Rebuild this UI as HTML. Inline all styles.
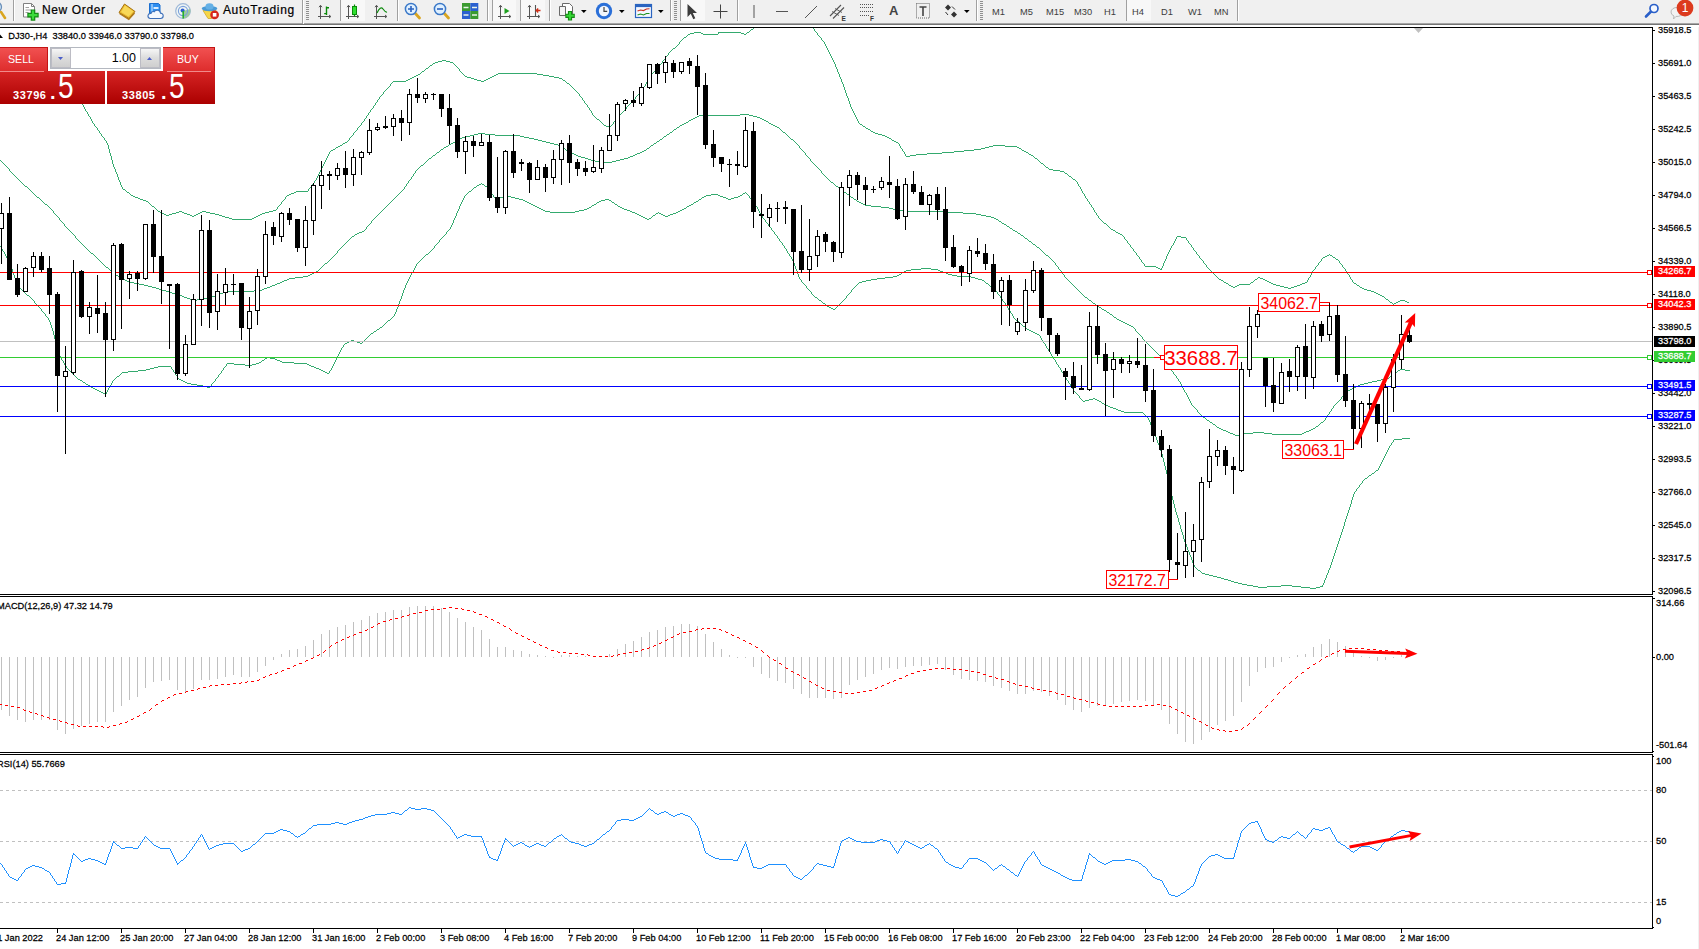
<!DOCTYPE html>
<html><head><meta charset="utf-8"><title>DJ30-,H4</title>
<style>
html,body{margin:0;padding:0;background:#fff;}
body{width:1699px;height:949px;overflow:hidden;position:relative;font-family:"Liberation Sans",sans-serif;}
#chart{position:absolute;left:0;top:0;}

#tb{position:absolute;left:0;top:0;width:1699px;height:27px;background:linear-gradient(#f0f0f0 0,#f0f0f0 23px,#a6a6a6 23px,#a6a6a6 24px,#747474 24px,#747474 25px,#fff 25px,#fff 27px);overflow:hidden;}
#tb .ic{position:absolute;overflow:visible;}
#tb .sep{position:absolute;top:0;width:1px;background:#a0a0a0;box-shadow:1px 0 0 #fff;}
#tb .grip{position:absolute;top:1px;width:3px;height:20px;background:repeating-linear-gradient(#909090 0,#909090 1px,transparent 1px,transparent 2px);}
#tb .hl{position:absolute;top:0;height:21px;background:#f8f8f8;box-shadow:inset 1px 0 0 #a0a0a0;}
#tb .tt{position:absolute;top:3px;font-size:12px;line-height:14px;color:#000;white-space:nowrap;-webkit-text-stroke:0.2px #000;}
#tb .tf{position:absolute;top:6.5px;font-size:9.3px;line-height:11px;color:#3c3c3c;white-space:nowrap;}
#tb .tA{position:absolute;top:4px;font-size:13px;line-height:14px;color:#444;font-weight:bold;}
#tp{position:absolute;left:0;top:47px;width:215px;height:57px;}
#tp .wbox{position:absolute;left:47px;top:0;width:117px;height:25px;background:#fff;}
#tp .bs{position:absolute;top:0;height:25px;width:48px;background:linear-gradient(#f25252,#dd2b2b);color:#fff;font-size:10.6px;box-shadow:inset -1px 1px 0 #c41414;}
#tp .sell{left:0;} #tp .buy{left:163px;width:52px;}
#tp .bs span{position:absolute;left:8px;top:5px;line-height:14px;letter-spacing:0px;}
#tp .buy span{left:14px;}
#tp .pr{position:absolute;top:24px;height:33px;background:linear-gradient(#d62424,#ab0000);color:#fff;}
#tp .pl{left:0;width:105px;} #tp .prr{left:107px;width:108px;}
#tp .ln{position:absolute;top:24px;height:1px;background:#f08a8a;}
#tp .sm{position:absolute;top:18px;font-size:11px;font-weight:bold;line-height:12px;letter-spacing:0.6px;}
#tp .dot{position:absolute;top:10px;font-size:20px;font-weight:bold;line-height:22px;}
#tp .big{position:absolute;top:-4px;font-size:35px;line-height:38px;transform:scaleX(0.8);transform-origin:0 0;}
#tp .spin{position:absolute;left:50px;top:0;width:111px;height:22px;border:1px solid #b4b8c0;background:#fff;box-sizing:border-box;}
#tp .sb{position:absolute;top:0;width:20px;height:20px;background:linear-gradient(#f6f6f6,#dcdcdc 50%,#cfcfcf);border:1px solid #bcbcc4;box-sizing:border-box;}
#tp .sb svg{position:absolute;left:6px;top:8px;}
#tp .vol{position:absolute;right:24px;top:3px;font-size:12.5px;line-height:15px;color:#000;}

</style></head><body>
<svg id="chart" width="1699" height="949" viewBox="0 0 1699 949">
<rect x="0" y="27" width="1653" height="1" fill="#000" />
<rect x="1652" y="27" width="1" height="902" fill="#000" />
<rect x="0" y="594" width="1653" height="1" fill="#000" />
<rect x="0" y="596" width="1653" height="1" fill="#000" />
<rect x="0" y="752" width="1653" height="1" fill="#000" />
<rect x="0" y="754" width="1653" height="1" fill="#000" />
<rect x="0" y="928" width="1653" height="1" fill="#000" />
<rect x="1652" y="595" width="1" height="1" fill="#fff" />
<rect x="1652" y="753" width="1" height="1" fill="#fff" />
<rect x="1698" y="25" width="1" height="924" fill="#f0f0f0" />
<clipPath id="cm"><rect x="0" y="28" width="1652" height="566"/></clipPath>
<clipPath id="c2"><rect x="0" y="597" width="1652" height="155"/></clipPath>
<clipPath id="c3"><rect x="0" y="755" width="1652" height="173"/></clipPath>
<g clip-path="url(#cm)" shape-rendering="crispEdges">
<polygon points="1414,28 1423,28 1418.5,33" fill="#c0c0c0" shape-rendering="auto"/>
<path fill="#34aa6e" d="M162 213h2v1h-2zM172 213h4v1h-4zM184 213h3v1h-3zM198 213h2v1h-2zM210 213h5v1h-5zM262 213h3v1h-3zM1386 299h2v1h-2zM1231 286h2v1h-2zM1235 286h2v1h-2zM1280 286h4v1h-4zM1294 286h3v1h-3zM1233 287h2v1h-2zM1284 287h4v1h-4zM1291 287h3v1h-3zM1360 287h2v1h-2zM393 81h13v1h-13zM481 81h3v1h-3zM673 48h2v1h-2zM1371 291h3v1h-3zM906 156h4v1h-4zM435 62h3v1h-3zM450 62h3v1h-3zM1226 283h2v1h-2zM1271 283h2v1h-2zM1302 283h3v1h-3zM1354 283h2v1h-2zM1219 279h2v1h-2zM1255 279h2v1h-2zM1263 279h2v1h-2zM160 212h2v1h-2zM176 212h3v1h-3zM182 212h2v1h-2zM200 212h2v1h-2zM206 212h4v1h-4zM265 212h4v1h-4zM1158 268h2v1h-2zM229 218h3v1h-3zM252 218h2v1h-2zM166 215h3v1h-3zM190 215h2v1h-2zM194 215h2v1h-2zM219 215h3v1h-3zM258 215h2v1h-2zM338 146h2v1h-2zM989 146h4v1h-4zM1005 146h12v1h-12zM927 153h15v1h-15zM1229 285h2v1h-2zM1237 285h2v1h-2zM1276 285h4v1h-4zM1297 285h3v1h-3zM1357 285h2v1h-2zM498 73h39v1h-39zM1239 284h11v1h-11zM1273 284h3v1h-3zM1300 284h2v1h-2zM694 32h7v1h-7zM718 32h23v1h-23zM747 32h2v1h-2zM406 80h2v1h-2zM477 80h4v1h-4zM484 80h2v1h-2zM563 80h2v1h-2zM916 154h11v1h-11zM1029 154h2v1h-2zM1390 302h2v1h-2zM1396 302h2v1h-2zM1407 302h2v1h-2zM764 21h8v1h-8zM1073 179h2v1h-2zM1380 295h2v1h-2zM133 196h2v1h-2zM1382 296h2v1h-2zM1374 292h2v1h-2zM567 83h2v1h-2zM412 77h2v1h-2zM467 77h4v1h-4zM490 77h2v1h-2zM554 77h5v1h-5zM604 125h2v1h-2zM1160 269h2v1h-2zM910 155h6v1h-6zM1031 155h2v1h-2zM442 60h4v1h-4zM690 33h4v1h-4zM701 33h2v1h-2zM741 33h3v1h-3zM340 145h2v1h-2zM993 145h12v1h-12zM143 200h3v1h-3zM1069 176h2v1h-2zM408 79h2v1h-2zM474 79h3v1h-3zM486 79h2v1h-2zM794 17h8v1h-8zM871 131h2v1h-2zM756 25h2v1h-2zM1145 266h11v1h-11zM1120 234h2v1h-2zM433 63h2v1h-2zM164 214h2v1h-2zM169 214h3v1h-3zM187 214h3v1h-3zM196 214h2v1h-2zM215 214h4v1h-4zM260 214h2v1h-2zM1398 301h2v1h-2zM1405 301h2v1h-2zM123 189h2v1h-2zM1367 290h4v1h-4zM1224 282h2v1h-2zM1251 282h2v1h-2zM1269 282h2v1h-2zM1305 282h2v1h-2zM1258 277h2v1h-2zM875 133h3v1h-3zM418 74h2v1h-2zM496 74h2v1h-2zM537 74h6v1h-6zM688 34h2v1h-2zM703 34h15v1h-15zM744 34h2v1h-2zM296 191h12v1h-12zM138 198h2v1h-2zM345 142h2v1h-2zM896 142h2v1h-2zM1378 294h2v1h-2zM942 152h12v1h-12zM1026 152h2v1h-2zM131 195h2v1h-2zM287 195h2v1h-2zM1327 255h2v1h-2zM1330 255h2v1h-2zM887 137h2v1h-2zM158 211h2v1h-2zM179 211h3v1h-3zM202 211h4v1h-4zM269 211h4v1h-4zM414 76h2v1h-2zM465 76h2v1h-2zM492 76h2v1h-2zM549 76h5v1h-5zM416 75h2v1h-2zM494 75h2v1h-2zM543 75h6v1h-6zM343 143h2v1h-2zM606 126h5v1h-5zM863 126h2v1h-2zM779 19h8v1h-8zM410 78h2v1h-2zM471 78h3v1h-3zM488 78h2v1h-2zM559 78h3v1h-3zM140 199h3v1h-3zM1053 170h7v1h-7zM273 210h3v1h-3zM1221 280h2v1h-2zM1265 280h2v1h-2zM232 219h20v1h-20zM333 149h2v1h-2zM974 149h7v1h-7zM1323 257h2v1h-2zM1333 257h2v1h-2zM1060 171h4v1h-4zM1400 300h5v1h-5zM860 124h2v1h-2zM892 140h2v1h-2zM146 201h2v1h-2zM152 206h2v1h-2zM1336 259h2v1h-2zM1113 230h2v1h-2zM430 65h2v1h-2zM225 217h4v1h-4zM254 217h2v1h-2zM1376 293h2v1h-2zM894 141h2v1h-2zM868 129h2v1h-2zM1260 278h3v1h-3zM981 148h4v1h-4zM1019 148h2v1h-2zM1035 158h2v1h-2zM426 68h2v1h-2zM889 138h2v1h-2zM331 150h2v1h-2zM964 150h10v1h-10zM1022 150h2v1h-2zM1104 223h2v1h-2zM1364 289h3v1h-3zM1118 233h2v1h-2zM787 18h7v1h-7zM135 197h3v1h-3zM1049 169h4v1h-4zM1267 281h2v1h-2zM954 151h10v1h-10zM1024 151h2v1h-2zM289 194h2v1h-2zM336 147h2v1h-2zM985 147h4v1h-4zM1017 147h2v1h-2zM438 61h4v1h-4zM446 61h4v1h-4zM1177 236h4v1h-4zM1116 232h2v1h-2zM772 20h7v1h-7zM1325 256h2v1h-2zM1181 237h5v1h-5zM1111 229h2v1h-2zM1046 167h2v1h-2zM597 119h2v1h-2zM127 192h2v1h-2zM294 192h2v1h-2zM885 136h2v1h-2zM873 132h2v1h-2zM1065 173h2v1h-2zM684 37h2v1h-2zM1156 267h2v1h-2zM878 134h4v1h-4zM760 22h4v1h-4zM422 71h2v1h-2zM1288 288h3v1h-3zM1362 288h2v1h-2zM192 216h2v1h-2zM222 216h3v1h-3zM256 216h2v1h-2zM882 135h3v1h-3zM802 16h4v1h-4zM291 193h3v1h-3zM1394 303h2v1h-2zM866 128h2v1h-2zM1041 163h2v1h-2zM751 29h2v1h-2zM1096 213h1v2h-1zM1359 286h1v1h-1zM1129 244h1v1h-1zM1173 243h1v2h-1zM1190 244h1v1h-1zM753 28h1v1h-1zM813 28h1v1h-1zM389 86h1v1h-1zM571 86h1v1h-1zM644 86h1v1h-1zM843 84h1v3h-1zM1133 249h1v2h-1zM1170 248h1v2h-1zM1193 248h1v2h-1zM565 81h1v1h-1zM647 81h1v1h-1zM841 79h1v3h-1zM388 87h1v1h-1zM572 87h1v1h-1zM643 87h1v2h-1zM844 87h1v3h-1zM827 48h1v2h-1zM1169 250h1v2h-1zM1194 250h1v1h-1zM83 105h1v2h-1zM373 106h1v2h-1zM587 105h1v2h-1zM627 106h1v1h-1zM850 104h1v3h-1zM1143 263h1v1h-1zM1163 263h1v3h-1zM1204 263h1v1h-1zM1318 263h1v2h-1zM1340 263h1v1h-1zM111 156h1v4h-1zM327 156h1v2h-1zM1033 156h1v1h-1zM662 61h1v2h-1zM834 62h1v2h-1zM1250 283h1v1h-1zM1308 278h1v2h-1zM1351 279h1v1h-1zM1095 212h1v1h-1zM1161 268h1v1h-1zM1208 268h1v1h-1zM1315 267h1v2h-1zM1344 268h1v1h-1zM387 88h1v1h-1zM573 88h1v1h-1zM98 130h1v1h-1zM356 130h1v1h-1zM870 130h1v1h-1zM1110 228h1v1h-1zM1099 218h1v1h-1zM1097 215h1v1h-1zM108 145h1v4h-1zM900 146h1v2h-1zM85 109h1v2h-1zM370 110h1v2h-1zM590 110h1v1h-1zM624 110h1v1h-1zM852 109h1v2h-1zM110 153h1v3h-1zM329 152h1v2h-1zM904 152h1v2h-1zM1028 153h1v1h-1zM420 73h1v1h-1zM462 73h1v1h-1zM652 73h1v1h-1zM838 72h1v2h-1zM1228 284h1v1h-1zM1356 284h1v1h-1zM816 32h1v1h-1zM648 79h1v2h-1zM328 154h1v2h-1zM905 154h1v2h-1zM808 20h1v2h-1zM379 97h1v2h-1zM581 97h1v1h-1zM635 97h1v2h-1zM847 96h1v2h-1zM149 203h1v1h-1zM281 202h1v2h-1zM1089 202h1v2h-1zM380 96h1v1h-1zM580 96h1v1h-1zM636 96h1v1h-1zM376 102h1v1h-1zM584 101h1v2h-1zM631 102h1v1h-1zM849 101h1v3h-1zM118 177h1v3h-1zM316 178h1v2h-1zM119 180h1v2h-1zM315 180h1v1h-1zM1075 180h1v1h-1zM150 204h1v1h-1zM280 204h1v1h-1zM1090 204h1v1h-1zM286 196h1v1h-1zM1085 196h1v2h-1zM391 83h1v1h-1zM646 82h1v2h-1zM842 82h1v2h-1zM649 77h1v2h-1zM840 77h1v2h-1zM84 107h1v2h-1zM588 107h1v1h-1zM626 107h1v2h-1zM851 107h1v2h-1zM428 67h1v1h-1zM457 67h1v1h-1zM657 67h1v1h-1zM836 67h1v2h-1zM94 124h1v2h-1zM360 125h1v1h-1zM611 125h1v1h-1zM862 125h1v1h-1zM1209 269h1v1h-1zM1314 269h1v1h-1zM1345 269h1v2h-1zM96 127h1v1h-1zM358 127h1v1h-1zM865 127h1v1h-1zM1124 237h1v2h-1zM1176 237h1v2h-1zM1186 238h1v2h-1zM663 60h1v1h-1zM833 60h1v2h-1zM90 117h1v2h-1zM365 118h1v1h-1zM596 118h1v1h-1zM617 118h1v1h-1zM856 117h1v2h-1zM1135 252h1v1h-1zM1168 252h1v2h-1zM1196 252h1v2h-1zM1139 257h1v2h-1zM1166 256h1v3h-1zM1200 258h1v1h-1zM1322 258h1v1h-1zM1335 258h1v1h-1zM87 112h1v2h-1zM369 112h1v1h-1zM591 111h1v2h-1zM622 112h1v1h-1zM853 111h1v2h-1zM718 33h1v1h-1zM746 33h1v1h-1zM817 33h1v2h-1zM899 144h1v2h-1zM750 30h1v1h-1zM814 29h1v2h-1zM117 174h1v3h-1zM318 174h1v2h-1zM1068 175h1v1h-1zM283 200h1v1h-1zM1087 199h1v2h-1zM378 99h1v1h-1zM582 98h1v2h-1zM634 99h1v1h-1zM848 98h1v3h-1zM156 209h1v1h-1zM276 209h1v1h-1zM1093 208h1v2h-1zM317 176h1v2h-1zM678 44h1v1h-1zM825 44h1v2h-1zM562 79h1v1h-1zM806 17h1v2h-1zM99 131h1v2h-1zM355 131h1v1h-1zM811 25h1v1h-1zM1162 266h1v2h-1zM1206 265h1v2h-1zM1316 266h1v1h-1zM1342 265h1v2h-1zM386 89h1v1h-1zM574 89h1v1h-1zM642 89h1v1h-1zM1130 245h1v2h-1zM1172 245h1v1h-1zM1191 245h1v2h-1zM453 63h1v1h-1zM661 63h1v1h-1zM1389 301h1v1h-1zM308 189h1v2h-1zM1081 189h1v2h-1zM383 92h1v2h-1zM578 93h1v1h-1zM639 93h1v1h-1zM846 93h1v3h-1zM151 205h1v1h-1zM279 205h1v1h-1zM1091 205h1v2h-1zM116 172h1v2h-1zM319 172h1v2h-1zM1064 172h1v1h-1zM1211 271h1v1h-1zM1312 271h1v2h-1zM1346 271h1v1h-1zM1353 282h1v1h-1zM424 70h1v1h-1zM459 69h1v2h-1zM655 70h1v1h-1zM837 69h1v3h-1zM1217 277h1v1h-1zM1309 277h1v1h-1zM1350 277h1v2h-1zM100 133h1v1h-1zM353 133h1v2h-1zM1034 157h1v1h-1zM1115 231h1v1h-1zM463 74h1v1h-1zM651 74h1v1h-1zM839 74h1v3h-1zM314 181h1v2h-1zM1076 181h1v1h-1zM1141 260h1v2h-1zM1165 259h1v2h-1zM1202 260h1v1h-1zM1321 259h1v2h-1zM1338 260h1v1h-1zM1136 253h1v2h-1zM1167 254h1v2h-1zM1197 254h1v1h-1zM1329 254h1v1h-1zM668 53h1v2h-1zM830 54h1v2h-1zM126 191h1v1h-1zM1082 191h1v2h-1zM285 197h1v2h-1zM1086 198h1v1h-1zM106 141h1v2h-1zM109 149h1v4h-1zM121 185h1v2h-1zM311 185h1v2h-1zM1079 186h1v1h-1zM1084 194h1v2h-1zM1137 255h1v1h-1zM1198 255h1v1h-1zM683 38h1v1h-1zM821 38h1v2h-1zM1142 262h1v1h-1zM1164 261h1v2h-1zM1203 261h1v2h-1zM1319 262h1v1h-1zM1339 261h1v2h-1zM103 137h1v1h-1zM350 137h1v1h-1zM1094 210h1v2h-1zM650 75h1v2h-1zM464 75h1v1h-1zM107 143h1v2h-1zM898 143h1v1h-1zM95 126h1v1h-1zM359 126h1v1h-1zM680 41h1v1h-1zM823 41h1v1h-1zM432 64h1v1h-1zM454 64h1v1h-1zM660 64h1v1h-1zM835 64h1v3h-1zM807 19h1v1h-1zM326 158h1v2h-1zM1037 159h1v1h-1zM675 47h1v1h-1zM826 46h1v2h-1zM284 199h1v1h-1zM113 164h1v3h-1zM322 166h1v2h-1zM1045 166h1v1h-1zM342 144h1v1h-1zM1393 304h1v1h-1zM377 100h1v2h-1zM632 101h1v1h-1zM759 23h1v1h-1zM810 23h1v2h-1zM115 169h1v3h-1zM320 170h1v2h-1zM1078 184h1v2h-1zM157 210h1v1h-1zM1214 274h1v1h-1zM1311 273h1v2h-1zM1348 274h1v1h-1zM1215 275h1v1h-1zM1310 275h1v2h-1zM1349 275h1v2h-1zM421 72h1v1h-1zM461 72h1v1h-1zM653 72h1v1h-1zM1254 280h1v1h-1zM1307 280h1v2h-1zM1352 280h1v2h-1zM1100 219h1v1h-1zM1106 224h1v1h-1zM374 105h1v1h-1zM628 105h1v1h-1zM902 149h1v2h-1zM1021 149h1v1h-1zM1107 225h1v1h-1zM1199 256h1v2h-1zM86 111h1v1h-1zM623 111h1v1h-1zM1144 264h1v2h-1zM1205 264h1v1h-1zM1341 264h1v1h-1zM1388 300h1v1h-1zM686 36h1v1h-1zM819 36h1v1h-1zM91 119h1v2h-1zM364 119h1v2h-1zM599 120h1v1h-1zM615 120h1v1h-1zM857 119h1v2h-1zM361 123h1v2h-1zM603 124h1v1h-1zM612 124h1v1h-1zM105 140h1v1h-1zM348 140h1v1h-1zM88 114h1v2h-1zM368 113h1v2h-1zM592 113h1v2h-1zM620 114h1v1h-1zM854 113h1v2h-1zM282 201h1v1h-1zM1088 201h1v1h-1zM1127 241h1v2h-1zM1174 241h1v2h-1zM1188 241h1v2h-1zM278 206h1v1h-1zM367 115h1v1h-1zM593 115h1v1h-1zM619 115h1v1h-1zM855 115h1v2h-1zM1102 221h1v1h-1zM1140 259h1v1h-1zM1201 259h1v1h-1zM455 65h1v1h-1zM659 65h1v1h-1zM1098 216h1v2h-1zM1212 272h1v1h-1zM1347 272h1v2h-1zM1384 297h1v1h-1zM122 187h1v2h-1zM310 187h1v1h-1zM1080 187h1v2h-1zM347 141h1v1h-1zM670 51h1v1h-1zM828 50h1v2h-1zM669 52h1v1h-1zM829 52h1v2h-1zM97 128h1v2h-1zM357 128h1v2h-1zM1218 278h1v1h-1zM1257 278h1v1h-1zM335 148h1v1h-1zM901 148h1v1h-1zM1108 226h1v1h-1zM1109 227h1v1h-1zM458 68h1v1h-1zM656 68h1v2h-1zM120 182h1v3h-1zM312 184h1v1h-1zM114 167h1v2h-1zM321 168h1v2h-1zM1048 168h1v1h-1zM390 84h1v2h-1zM570 85h1v1h-1zM645 84h1v2h-1zM1071 177h1v1h-1zM148 202h1v1h-1zM381 95h1v1h-1zM579 94h1v2h-1zM637 95h1v1h-1zM384 91h1v1h-1zM576 91h1v1h-1zM640 91h1v2h-1zM845 90h1v3h-1zM104 138h1v2h-1zM349 138h1v2h-1zM1320 261h1v1h-1zM429 66h1v1h-1zM456 66h1v1h-1zM658 66h1v1h-1zM89 116h1v1h-1zM366 116h1v2h-1zM594 116h1v1h-1zM618 116h1v2h-1zM425 69h1v1h-1zM749 31h1v1h-1zM815 31h1v1h-1zM382 94h1v1h-1zM638 94h1v1h-1zM672 49h1v1h-1zM667 55h1v1h-1zM323 164h1v2h-1zM1044 165h1v1h-1zM1067 174h1v1h-1zM679 42h1v2h-1zM824 42h1v2h-1zM595 117h1v1h-1zM392 82h1v1h-1zM566 82h1v1h-1zM93 123h1v1h-1zM602 123h1v1h-1zM613 122h1v2h-1zM859 123h1v1h-1zM1213 273h1v1h-1zM1223 281h1v1h-1zM1253 281h1v1h-1zM1125 239h1v1h-1zM1175 239h1v2h-1zM1317 265h1v1h-1zM891 139h1v1h-1zM309 188h1v1h-1zM330 151h1v1h-1zM903 151h1v1h-1zM1131 247h1v1h-1zM1171 246h1v2h-1zM1192 247h1v1h-1zM130 194h1v1h-1zM569 84h1v1h-1zM125 190h1v1h-1zM1123 236h1v1h-1zM681 40h1v1h-1zM822 40h1v1h-1zM1138 256h1v1h-1zM1332 256h1v1h-1zM1043 164h1v1h-1zM155 208h1v1h-1zM277 207h1v2h-1zM375 103h1v2h-1zM585 103h1v1h-1zM630 103h1v1h-1zM687 35h1v1h-1zM818 35h1v1h-1zM92 121h1v2h-1zM362 122h1v1h-1zM601 122h1v1h-1zM858 121h1v2h-1zM621 113h1v1h-1zM616 119h1v1h-1zM102 136h1v1h-1zM351 136h1v1h-1zM755 26h1v1h-1zM812 26h1v2h-1zM665 57h1v2h-1zM831 56h1v2h-1zM354 132h1v1h-1zM1216 276h1v1h-1zM583 100h1v1h-1zM633 100h1v1h-1zM820 37h1v1h-1zM112 160h1v4h-1zM325 160h1v2h-1zM1039 161h1v1h-1zM324 162h1v2h-1zM1040 162h1v1h-1zM1207 267h1v1h-1zM1343 267h1v1h-1zM101 134h1v2h-1zM313 183h1v1h-1zM1077 182h1v2h-1zM1132 248h1v1h-1zM372 108h1v1h-1zM589 108h1v2h-1zM809 22h1v1h-1zM460 71h1v1h-1zM654 71h1v1h-1zM1038 160h1v1h-1zM1134 251h1v1h-1zM1195 251h1v1h-1zM682 39h1v1h-1zM352 135h1v1h-1zM371 109h1v1h-1zM625 109h1v1h-1zM1072 178h1v1h-1zM129 193h1v1h-1zM1083 193h1v1h-1zM666 56h1v1h-1zM385 90h1v1h-1zM575 90h1v1h-1zM641 90h1v1h-1zM577 92h1v1h-1zM1392 303h1v1h-1zM154 207h1v1h-1zM1092 207h1v1h-1zM363 121h1v1h-1zM600 121h1v1h-1zM614 121h1v1h-1zM82 104h1v1h-1zM586 104h1v1h-1zM629 104h1v1h-1zM832 58h1v2h-1zM1126 240h1v1h-1zM1187 240h1v1h-1zM1128 243h1v1h-1zM1189 243h1v1h-1zM754 27h1v1h-1zM677 45h1v1h-1zM758 24h1v1h-1zM676 46h1v1h-1zM1210 270h1v1h-1zM1313 270h1v1h-1zM664 59h1v1h-1zM1101 220h1v1h-1zM671 50h1v1h-1zM1103 222h1v1h-1zM1122 235h1v1h-1zM1385 298h1v1h-1z"/>
<path fill="#34aa6e" d="M1233 434h2v1h-2zM1239 434h5v1h-5zM1272 434h30v1h-30zM166 291h3v1h-3zM226 291h28v1h-28zM695 117h2v1h-2zM757 117h3v1h-3zM578 156h3v1h-3zM630 156h3v1h-3zM1230 433h3v1h-3zM1244 433h9v1h-9zM1264 433h8v1h-8zM1302 433h2v1h-2zM699 115h41v1h-41zM749 115h4v1h-4zM1217 427h2v1h-2zM139 284h5v1h-5zM275 284h2v1h-2zM456 140h2v1h-2zM538 140h4v1h-4zM1377 380h4v1h-4zM840 189h2v1h-2zM999 221h2v1h-2zM572 153h2v1h-2zM637 153h3v1h-3zM1398 370h2v1h-2zM1405 370h5v1h-5zM595 161h8v1h-8zM612 161h4v1h-4zM859 202h2v1h-2zM462 137h4v1h-4zM524 137h5v1h-5zM775 126h2v1h-2zM1364 383h4v1h-4zM1110 314h2v1h-2zM1394 373h2v1h-2zM897 210h11v1h-11zM433 155h2v1h-2zM576 155h2v1h-2zM633 155h2v1h-2zM568 151h2v1h-2zM642 151h2v1h-2zM184 297h3v1h-3zM209 297h3v1h-3zM1085 297h2v1h-2zM1104 310h2v1h-2zM156 288h3v1h-3zM264 288h3v1h-3zM740 114h9v1h-9zM357 233h2v1h-2zM1018 233h2v1h-2zM449 144h2v1h-2zM554 144h4v1h-4zM474 134h4v1h-4zM485 134h10v1h-10zM667 134h2v1h-2zM963 213h13v1h-13zM453 142h2v1h-2zM546 142h4v1h-4zM437 152h2v1h-2zM570 152h2v1h-2zM640 152h2v1h-2zM460 138h2v1h-2zM529 138h5v1h-5zM458 139h2v1h-2zM534 139h4v1h-4zM660 139h2v1h-2zM791 139h2v1h-2zM766 121h2v1h-2zM1125 323h2v1h-2zM1117 319h2v1h-2zM943 212h20v1h-20zM316 271h2v1h-2zM429 158h2v1h-2zM585 158h3v1h-3zM624 158h4v1h-4zM563 148h2v1h-2zM647 148h2v1h-2zM359 232h3v1h-3zM169 292h3v1h-3zM223 292h3v1h-3zM1099 307h2v1h-2zM976 214h5v1h-5zM603 162h9v1h-9zM689 120h2v1h-2zM764 120h2v1h-2zM857 201h2v1h-2zM686 122h2v1h-2zM1004 224h2v1h-2zM446 146h2v1h-2zM172 293h4v1h-4zM220 293h3v1h-3zM844 192h2v1h-2zM591 160h4v1h-4zM616 160h4v1h-4zM470 135h4v1h-4zM495 135h25v1h-25zM1013 230h2v1h-2zM1114 317h2v1h-2zM558 145h3v1h-3zM651 145h2v1h-2zM908 211h35v1h-35zM127 281h3v1h-3zM282 281h2v1h-2zM670 132h2v1h-2zM783 132h2v1h-2zM187 298h3v1h-3zM204 298h5v1h-5zM152 287h4v1h-4zM267 287h3v1h-3zM116 275h2v1h-2zM308 275h2v1h-2zM1381 379h5v1h-5zM37 197h2v1h-2zM851 197h2v1h-2zM1316 426h2v1h-2zM865 205h6v1h-6zM871 206h10v1h-10zM1400 369h5v1h-5zM421 165h2v1h-2zM451 143h2v1h-2zM550 143h4v1h-4zM654 143h2v1h-2zM192 300h5v1h-5zM1089 300h2v1h-2zM125 280h2v1h-2zM284 280h3v1h-3zM574 154h2v1h-2zM635 154h2v1h-2zM566 150h2v1h-2zM644 150h2v1h-2zM130 282h4v1h-4zM280 282h2v1h-2zM1235 435h4v1h-4zM881 207h8v1h-8zM118 276h2v1h-2zM303 276h5v1h-5zM861 203h2v1h-2zM148 286h4v1h-4zM270 286h2v1h-2zM682 124h2v1h-2zM771 124h2v1h-2zM1203 417h2v1h-2zM352 236h2v1h-2zM996 219h2v1h-2zM1097 306h2v1h-2zM1358 385h2v1h-2zM444 147h2v1h-2zM1356 386h2v1h-2zM1352 388h2v1h-2zM581 157h4v1h-4zM628 157h2v1h-2zM1119 320h2v1h-2zM123 279h2v1h-2zM287 279h2v1h-2zM1093 303h2v1h-2zM314 272h2v1h-2zM1221 429h2v1h-2zM1311 429h2v1h-2zM134 283h5v1h-5zM277 283h3v1h-3zM45 204h2v1h-2zM863 204h2v1h-2zM25 186h2v1h-2zM836 186h2v1h-2zM1025 238h2v1h-2zM1007 226h2v1h-2zM176 294h3v1h-3zM217 294h3v1h-3zM190 299h2v1h-2zM197 299h7v1h-7zM159 289h3v1h-3zM262 289h2v1h-2zM1368 382h4v1h-4zM1372 381h5v1h-5zM677 127h2v1h-2zM777 127h2v1h-2zM684 123h2v1h-2zM769 123h2v1h-2zM466 136h4v1h-4zM520 136h4v1h-4zM664 136h2v1h-2zM1033 244h2v1h-2zM121 278h2v1h-2zM289 278h6v1h-6zM691 119h2v1h-2zM762 119h2v1h-2zM355 234h2v1h-2zM1021 235h2v1h-2zM994 218h2v1h-2zM1102 309h2v1h-2zM179 295h3v1h-3zM215 295h2v1h-2zM697 116h2v1h-2zM753 116h4v1h-4zM162 290h4v1h-4zM254 290h8v1h-8zM91 253h2v1h-2zM1386 378h3v1h-3zM693 118h2v1h-2zM760 118h2v1h-2zM847 194h2v1h-2zM588 159h3v1h-3zM620 159h4v1h-4zM1228 432h2v1h-2zM1253 432h11v1h-11zM1304 432h2v1h-2zM362 231h2v1h-2zM1015 231h2v1h-2zM1348 390h2v1h-2zM144 285h4v1h-4zM272 285h3v1h-3zM854 199h2v1h-2zM1029 241h2v1h-2zM114 274h2v1h-2zM310 274h2v1h-2zM680 125h2v1h-2zM773 125h2v1h-2zM1107 312h2v1h-2zM1037 247h2v1h-2zM1010 228h2v1h-2zM991 217h3v1h-3zM1360 384h4v1h-4zM889 208h4v1h-4zM1121 321h2v1h-2zM441 149h2v1h-2zM295 277h8v1h-8zM478 133h7v1h-7zM674 129h2v1h-2zM986 216h5v1h-5zM1223 430h3v1h-3zM1309 430h2v1h-2zM1350 389h2v1h-2zM182 296h2v1h-2zM212 296h3v1h-3zM1354 387h2v1h-2zM106 267h2v1h-2zM1219 428h2v1h-2zM1313 428h2v1h-2zM1046 255h2v1h-2zM893 209h4v1h-4zM1002 223h2v1h-2zM1213 424h2v1h-2zM312 273h2v1h-2zM542 141h4v1h-4zM657 141h2v1h-2zM1123 322h2v1h-2zM981 215h5v1h-5zM1226 431h2v1h-2zM1306 431h3v1h-3zM325 263h2v1h-2zM1207 420h2v1h-2zM1127 324h2v1h-2zM831 182h2v1h-2zM1390 376h2v1h-2zM1210 422h2v1h-2zM1321 422h2v1h-2zM1129 325h2v1h-2zM1131 326h2v1h-2zM1079 291h1v1h-1zM432 156h1v1h-1zM807 156h1v1h-1zM1315 427h1v1h-1zM1189 399h1v2h-1zM1339 400h1v1h-1zM28 188h1v1h-1zM404 187h1v2h-1zM839 188h1v1h-1zM1072 284h1v1h-1zM659 140h1v1h-1zM793 140h1v1h-1zM1178 379h1v2h-1zM29 189h1v1h-1zM403 189h1v1h-1zM61 221h1v1h-1zM371 221h1v2h-1zM436 153h1v1h-1zM805 153h1v2h-1zM1171 369h1v2h-1zM1 161h1v1h-1zM426 161h1v1h-1zM811 161h1v1h-1zM62 222h1v1h-1zM1001 222h1v1h-1zM676 128h1v1h-1zM779 128h1v1h-1zM43 202h1v1h-1zM390 202h1v1h-1zM663 137h1v1h-1zM789 137h1v1h-1zM84 246h1v1h-1zM342 246h1v1h-1zM1036 246h1v1h-1zM27 187h1v1h-1zM838 187h1v1h-1zM679 126h1v1h-1zM1180 382h1v2h-1zM1141 336h1v1h-1zM39 198h1v1h-1zM394 198h1v1h-1zM853 198h1v1h-1zM1173 372h1v2h-1zM52 210h1v1h-1zM382 210h1v1h-1zM806 155h1v1h-1zM439 151h1v1h-1zM803 151h1v1h-1zM1076 288h1v1h-1zM72 233h1v1h-1zM653 144h1v1h-1zM797 144h1v1h-1zM786 134h1v1h-1zM54 213h1v1h-1zM379 213h1v1h-1zM656 142h1v1h-1zM795 142h1v1h-1zM804 152h1v1h-1zM24 185h1v1h-1zM406 184h1v2h-1zM835 185h1v1h-1zM662 138h1v1h-1zM790 138h1v1h-1zM688 121h1v1h-1zM1133 327h1v1h-1zM1169 366h1v2h-1zM53 211h1v2h-1zM380 212h1v1h-1zM103 264h1v1h-1zM324 264h1v1h-1zM1055 263h1v2h-1zM111 271h1v1h-1zM1061 271h1v2h-1zM809 158h1v1h-1zM443 148h1v1h-1zM800 148h1v1h-1zM71 232h1v1h-1zM1017 232h1v1h-1zM1080 292h1v1h-1zM1187 395h1v2h-1zM1342 396h1v1h-1zM55 214h1v1h-1zM378 214h1v1h-1zM60 220h1v1h-1zM372 220h1v1h-1zM998 220h1v1h-1zM2 162h1v1h-1zM425 162h1v1h-1zM812 162h1v1h-1zM30 190h1v1h-1zM402 190h1v1h-1zM842 190h1v1h-1zM42 201h1v1h-1zM391 201h1v1h-1zM31 191h1v1h-1zM401 191h1v1h-1zM843 191h1v1h-1zM768 122h1v1h-1zM64 224h1v2h-1zM369 224h1v1h-1zM4 164h1v1h-1zM423 164h1v1h-1zM814 164h1v1h-1zM561 146h1v1h-1zM650 146h1v1h-1zM799 146h1v2h-1zM1081 293h1v1h-1zM81 243h1v1h-1zM345 243h1v1h-1zM1032 243h1v1h-1zM86 248h1v1h-1zM340 248h1v1h-1zM1039 248h1v1h-1zM32 192h1v1h-1zM400 192h1v1h-1zM0 160h1v1h-1zM427 160h1v1h-1zM810 159h1v2h-1zM1143 339h1v1h-1zM1113 316h1v1h-1zM666 135h1v1h-1zM787 135h1v1h-1zM69 230h1v1h-1zM364 230h1v1h-1zM448 145h1v1h-1zM798 145h1v1h-1zM1176 376h1v2h-1zM1389 377h1v1h-1zM381 211h1v1h-1zM90 252h1v1h-1zM337 251h1v2h-1zM1043 252h1v1h-1zM1069 281h1v1h-1zM10 171h1v1h-1zM415 171h1v2h-1zM821 171h1v2h-1zM1087 298h1v1h-1zM1075 287h1v1h-1zM1064 275h1v2h-1zM395 197h1v1h-1zM1216 426h1v1h-1zM17 178h1v1h-1zM411 177h1v2h-1zM827 178h1v1h-1zM47 205h1v1h-1zM387 205h1v1h-1zM1185 392h1v1h-1zM1346 392h1v1h-1zM83 245h1v1h-1zM343 245h1v1h-1zM1035 245h1v1h-1zM1201 415h1v1h-1zM1327 415h1v2h-1zM48 206h1v1h-1zM386 206h1v1h-1zM23 184h1v1h-1zM834 184h1v1h-1zM1135 329h1v2h-1zM77 239h1v1h-1zM349 239h1v1h-1zM1027 239h1v1h-1zM5 165h1v1h-1zM815 165h1v1h-1zM93 254h1v1h-1zM335 254h1v1h-1zM1045 254h1v1h-1zM796 143h1v1h-1zM1109 313h1v1h-1zM1190 401h1v2h-1zM1338 401h1v1h-1zM1068 280h1v1h-1zM435 154h1v1h-1zM440 150h1v1h-1zM802 150h1v1h-1zM1070 282h1v1h-1zM1194 407h1v1h-1zM1333 406h1v2h-1zM49 207h1v1h-1zM385 207h1v1h-1zM1340 399h1v1h-1zM19 180h1v1h-1zM409 180h1v1h-1zM829 180h1v1h-1zM44 203h1v1h-1zM389 203h1v1h-1zM1074 286h1v1h-1zM66 227h1v1h-1zM366 227h1v2h-1zM1009 227h1v1h-1zM1326 417h1v1h-1zM99 260h1v1h-1zM329 260h1v1h-1zM1052 260h1v1h-1zM75 236h1v2h-1zM1023 236h1v1h-1zM1164 360h1v1h-1zM1096 305h1v1h-1zM59 218h1v2h-1zM373 219h1v1h-1zM1181 384h1v2h-1zM562 147h1v1h-1zM649 147h1v1h-1zM1182 386h1v2h-1zM1183 388h1v2h-1zM431 157h1v1h-1zM808 157h1v1h-1zM1137 332h1v1h-1zM20 181h1v1h-1zM408 181h1v2h-1zM830 181h1v1h-1zM109 269h1v1h-1zM319 269h1v1h-1zM1059 269h1v1h-1zM1138 333h1v1h-1zM1067 279h1v1h-1zM110 270h1v1h-1zM318 270h1v1h-1zM1060 270h1v1h-1zM1092 302h1v1h-1zM112 272h1v1h-1zM673 130h1v1h-1zM781 130h1v1h-1zM1071 283h1v1h-1zM388 204h1v1h-1zM68 229h1v1h-1zM365 229h1v1h-1zM1012 229h1v1h-1zM405 186h1v1h-1zM101 262h1v1h-1zM327 262h1v1h-1zM1054 262h1v1h-1zM368 225h1v1h-1zM1006 225h1v1h-1zM76 238h1v1h-1zM350 238h1v1h-1zM65 226h1v1h-1zM367 226h1v1h-1zM1166 362h1v2h-1zM1082 294h1v1h-1zM89 251h1v1h-1zM1042 251h1v1h-1zM1088 299h1v1h-1zM1077 289h1v1h-1zM1195 408h1v1h-1zM1332 408h1v1h-1zM16 177h1v1h-1zM826 177h1v1h-1zM9 169h1v2h-1zM416 170h1v1h-1zM820 170h1v1h-1zM41 200h1v1h-1zM392 200h1v1h-1zM856 200h1v1h-1zM1191 403h1v2h-1zM1335 404h1v1h-1zM1179 381h1v1h-1zM788 136h1v1h-1zM82 244h1v1h-1zM344 244h1v1h-1zM1066 278h1v1h-1zM73 234h1v1h-1zM1020 234h1v1h-1zM87 249h1v1h-1zM339 249h1v1h-1zM1040 249h1v1h-1zM74 235h1v1h-1zM354 235h1v1h-1zM374 218h1v1h-1zM1083 295h1v1h-1zM12 173h1v1h-1zM414 173h1v1h-1zM822 173h1v1h-1zM1078 290h1v1h-1zM33 193h1v1h-1zM399 193h1v1h-1zM846 193h1v1h-1zM336 253h1v1h-1zM1044 253h1v1h-1zM1177 378h1v1h-1zM1197 410h1v2h-1zM1331 409h1v2h-1zM22 183h1v1h-1zM407 183h1v1h-1zM833 183h1v1h-1zM18 179h1v1h-1zM410 179h1v1h-1zM828 179h1v1h-1zM34 194h1v1h-1zM398 194h1v1h-1zM428 159h1v1h-1zM70 231h1v1h-1zM1116 318h1v1h-1zM1168 365h1v1h-1zM1396 372h1v1h-1zM35 195h1v1h-1zM397 195h1v1h-1zM849 195h1v1h-1zM1172 371h1v1h-1zM1397 371h1v1h-1zM1184 390h1v2h-1zM1073 285h1v1h-1zM1337 402h1v1h-1zM40 199h1v1h-1zM393 199h1v1h-1zM95 256h1v1h-1zM333 256h1v1h-1zM1048 256h1v1h-1zM79 241h1v1h-1zM347 241h1v1h-1zM96 257h1v1h-1zM332 257h1v1h-1zM1049 257h1v1h-1zM3 163h1v1h-1zM424 163h1v1h-1zM813 163h1v1h-1zM100 261h1v1h-1zM328 261h1v1h-1zM1053 261h1v1h-1zM80 242h1v1h-1zM346 242h1v1h-1zM1031 242h1v1h-1zM1063 274h1v1h-1zM1142 337h1v2h-1zM1112 315h1v1h-1zM36 196h1v1h-1zM396 196h1v1h-1zM850 196h1v1h-1zM417 169h1v1h-1zM819 169h1v1h-1zM105 266h1v1h-1zM322 266h1v1h-1zM1057 266h1v1h-1zM1148 344h1v1h-1zM85 247h1v1h-1zM341 247h1v1h-1zM67 228h1v1h-1zM1174 374h1v1h-1zM1393 374h1v1h-1zM58 217h1v1h-1zM375 217h1v1h-1zM1336 403h1v1h-1zM1186 393h1v2h-1zM1344 394h1v1h-1zM108 268h1v1h-1zM320 268h1v1h-1zM1058 267h1v2h-1zM1140 335h1v1h-1zM97 258h1v1h-1zM331 258h1v1h-1zM1050 258h1v1h-1zM50 208h1v1h-1zM384 208h1v1h-1zM565 149h1v1h-1zM646 149h1v1h-1zM801 149h1v1h-1zM120 277h1v1h-1zM1065 277h1v1h-1zM98 259h1v1h-1zM330 259h1v1h-1zM1051 259h1v1h-1zM1212 423h1v1h-1zM1320 423h1v1h-1zM6 166h1v1h-1zM420 166h1v1h-1zM816 166h1v1h-1zM1095 304h1v1h-1zM11 172h1v1h-1zM1196 409h1v1h-1zM1202 416h1v1h-1zM669 133h1v1h-1zM785 133h1v1h-1zM104 265h1v1h-1zM323 265h1v1h-1zM1056 265h1v1h-1zM78 240h1v1h-1zM348 240h1v1h-1zM1028 240h1v1h-1zM780 129h1v1h-1zM57 216h1v1h-1zM376 216h1v1h-1zM1193 406h1v1h-1zM1084 296h1v1h-1zM351 237h1v1h-1zM1024 237h1v1h-1zM1345 393h1v1h-1zM321 267h1v1h-1zM672 131h1v1h-1zM782 131h1v1h-1zM1144 340h1v1h-1zM94 255h1v1h-1zM334 255h1v1h-1zM1343 395h1v1h-1zM51 209h1v1h-1zM383 209h1v1h-1zM63 223h1v1h-1zM370 223h1v1h-1zM1319 424h1v1h-1zM7 167h1v1h-1zM419 167h1v1h-1zM817 167h1v1h-1zM113 273h1v1h-1zM1062 273h1v1h-1zM1198 412h1v1h-1zM1329 412h1v2h-1zM1347 391h1v1h-1zM1146 342h1v1h-1zM8 168h1v1h-1zM418 168h1v1h-1zM818 168h1v1h-1zM1147 343h1v1h-1zM1175 375h1v1h-1zM1392 375h1v1h-1zM1205 418h1v1h-1zM1325 418h1v2h-1zM455 141h1v1h-1zM794 141h1v1h-1zM1153 349h1v1h-1zM56 215h1v1h-1zM377 215h1v1h-1zM1200 414h1v1h-1zM1328 414h1v1h-1zM102 263h1v1h-1zM1170 368h1v1h-1zM13 174h1v1h-1zM413 174h1v2h-1zM823 174h1v1h-1zM1192 405h1v1h-1zM1334 405h1v1h-1zM1215 425h1v1h-1zM1318 425h1v1h-1zM1155 351h1v1h-1zM1188 397h1v2h-1zM1341 397h1v2h-1zM1156 352h1v1h-1zM15 176h1v1h-1zM412 176h1v1h-1zM825 176h1v1h-1zM1324 420h1v1h-1zM1149 345h1v1h-1zM14 175h1v1h-1zM824 175h1v1h-1zM1330 411h1v1h-1zM21 182h1v1h-1zM1145 341h1v1h-1zM1151 347h1v1h-1zM1152 348h1v1h-1zM1206 419h1v1h-1zM1209 421h1v1h-1zM1323 421h1v1h-1zM1154 350h1v1h-1zM1160 356h1v1h-1zM1161 357h1v1h-1zM88 250h1v1h-1zM338 250h1v1h-1zM1041 250h1v1h-1zM1199 413h1v1h-1zM1162 358h1v1h-1zM1163 359h1v1h-1zM1091 301h1v1h-1zM1150 346h1v1h-1zM1134 328h1v1h-1zM1157 353h1v1h-1zM1101 308h1v1h-1zM1167 364h1v1h-1zM1136 331h1v1h-1zM1158 354h1v1h-1zM1159 355h1v1h-1zM1165 361h1v1h-1zM1106 311h1v1h-1zM1139 334h1v1h-1z"/>
<path fill="#34aa6e" d="M234 364h11v1h-11zM252 364h4v1h-4zM307 364h2v1h-2zM893 276h4v1h-4zM957 276h14v1h-14zM1369 475h2v1h-2zM541 209h2v1h-2zM584 209h3v1h-3zM624 209h3v1h-3zM682 209h2v1h-2zM158 366h13v1h-13zM311 366h3v1h-3zM1247 585h6v1h-6zM1281 585h11v1h-11zM259 362h2v1h-2zM282 362h12v1h-12zM877 278h8v1h-8zM975 278h3v1h-3zM494 197h11v1h-11zM511 197h4v1h-4zM702 197h2v1h-2zM723 197h3v1h-3zM734 197h4v1h-4zM1228 580h3v1h-3zM537 207h2v1h-2zM589 207h2v1h-2zM620 207h2v1h-2zM374 331h2v1h-2zM1031 331h2v1h-2zM146 369h4v1h-4zM319 369h2v1h-2zM986 283h2v1h-2zM1205 574h4v1h-4zM862 281h4v1h-4zM1394 439h8v1h-8zM899 274h2v1h-2zM948 274h4v1h-4zM1089 399h4v1h-4zM1095 399h2v1h-2zM1258 587h9v1h-9zM1301 587h9v1h-9zM1316 587h4v1h-4zM904 271h2v1h-2zM940 271h3v1h-3zM921 268h10v1h-10zM1124 412h19v1h-19zM187 383h4v1h-4zM122 372h6v1h-6zM325 372h2v1h-2zM871 279h6v1h-6zM978 279h4v1h-4zM885 277h8v1h-8zM971 277h4v1h-4zM80 380h2v1h-2zM181 380h2v1h-2zM743 193h2v1h-2zM505 196h6v1h-6zM704 196h2v1h-2zM720 196h3v1h-3zM738 196h2v1h-2zM1231 581h3v1h-3zM992 288h2v1h-2zM635 213h2v1h-2zM656 213h2v1h-2zM659 213h2v1h-2zM673 213h3v1h-3zM101 392h2v1h-2zM93 388h2v1h-2zM545 211h5v1h-5zM575 211h4v1h-4zM630 211h2v1h-2zM678 211h2v1h-2zM647 219h2v1h-2zM1253 586h5v1h-5zM1267 586h14v1h-14zM1292 586h9v1h-9zM1320 586h3v1h-3zM639 215h2v1h-2zM653 215h2v1h-2zM663 215h2v1h-2zM668 215h2v1h-2zM531 204h2v1h-2zM594 204h2v1h-2zM615 204h2v1h-2zM691 204h2v1h-2zM265 358h2v1h-2zM270 358h5v1h-5zM897 275h2v1h-2zM952 275h5v1h-5zM533 205h2v1h-2zM592 205h2v1h-2zM689 205h2v1h-2zM91 387h2v1h-2zM207 387h3v1h-3zM535 206h2v1h-2zM618 206h2v1h-2zM687 206h2v1h-2zM154 367h4v1h-4zM314 367h2v1h-2zM550 212h25v1h-25zM632 212h3v1h-3zM676 212h2v1h-2zM539 208h2v1h-2zM587 208h2v1h-2zM622 208h2v1h-2zM684 208h2v1h-2zM911 269h10v1h-10zM931 269h7v1h-7zM86 384h2v1h-2zM191 384h6v1h-6zM827 306h2v1h-2zM117 376h2v1h-2zM543 210h2v1h-2zM579 210h5v1h-5zM627 210h3v1h-3zM680 210h2v1h-2zM1121 411h3v1h-3zM1113 408h3v1h-3zM327 373h2v1h-2zM527 202h2v1h-2zM597 202h2v1h-2zM612 202h2v1h-2zM694 202h2v1h-2zM183 381h2v1h-2zM529 203h2v1h-2zM519 199h4v1h-4zM605 199h4v1h-4zM699 199h2v1h-2zM728 199h3v1h-3zM637 214h2v1h-2zM661 214h2v1h-2zM670 214h3v1h-3zM245 365h7v1h-7zM309 365h2v1h-2zM345 343h2v1h-2zM360 343h2v1h-2zM351 340h3v1h-3zM1017 321h2v1h-2zM1037 334h2v1h-2zM906 270h5v1h-5zM938 270h2v1h-2zM27 295h2v1h-2zM1217 577h4v1h-4zM1402 438h8v1h-8zM711 194h7v1h-7zM138 370h8v1h-8zM321 370h2v1h-2zM1202 573h3v1h-3zM525 201h2v1h-2zM599 201h2v1h-2zM696 201h2v1h-2zM203 386h4v1h-4zM859 282h3v1h-3zM78 379h2v1h-2zM179 379h2v1h-2zM706 195h5v1h-5zM718 195h2v1h-2zM740 195h2v1h-2zM99 391h2v1h-2zM150 368h4v1h-4zM316 368h3v1h-3zM380 327h2v1h-2zM371 333h2v1h-2zM1035 333h2v1h-2zM128 371h10v1h-10zM323 371h2v1h-2zM1085 400h4v1h-4zM1097 400h2v1h-2zM515 198h4v1h-4zM726 198h2v1h-2zM731 198h3v1h-3zM1221 578h3v1h-3zM831 308h2v1h-2zM267 357h3v1h-3zM1118 410h3v1h-3zM523 200h2v1h-2zM601 200h4v1h-4zM609 200h2v1h-2zM95 389h2v1h-2zM88 385h2v1h-2zM197 385h6v1h-6zM833 309h2v1h-2zM641 216h2v1h-2zM665 216h3v1h-3zM474 187h2v1h-2zM479 184h2v1h-2zM482 184h2v1h-2zM1376 470h2v1h-2zM829 307h2v1h-2zM1224 579h4v1h-4zM388 320h2v1h-2zM262 360h2v1h-2zM277 360h3v1h-3zM477 185h2v1h-2zM83 382h2v1h-2zM185 382h2v1h-2zM902 272h2v1h-2zM943 272h3v1h-3zM1029 330h2v1h-2zM1238 583h4v1h-4zM97 390h2v1h-2zM946 273h2v1h-2zM1372 473h2v1h-2zM815 297h2v1h-2zM1116 409h2v1h-2zM643 217h2v1h-2zM1110 407h3v1h-3zM645 218h2v1h-2zM649 218h2v1h-2zM1102 403h2v1h-2zM227 363h7v1h-7zM256 363h3v1h-3zM294 363h13v1h-13zM823 303h2v1h-2zM103 393h2v1h-2zM819 300h2v1h-2zM1023 326h2v1h-2zM377 329h2v1h-2zM1027 329h2v1h-2zM1365 478h2v1h-2zM349 341h2v1h-2zM354 341h3v1h-3zM280 361h2v1h-2zM275 359h2v1h-2zM347 342h2v1h-2zM357 342h3v1h-3zM1242 584h5v1h-5zM1033 332h2v1h-2zM1083 401h2v1h-2zM1099 401h2v1h-2zM485 186h2v1h-2zM866 280h5v1h-5zM982 280h2v1h-2zM1310 588h6v1h-6zM1093 398h2v1h-2zM1213 576h4v1h-4zM1106 405h2v1h-2zM1234 582h4v1h-4zM469 191h2v1h-2zM1209 575h4v1h-4zM1108 406h2v1h-2zM426 254h2v1h-2zM1198 570h2v1h-2zM1104 404h2v1h-2zM64 363h1v2h-1zM226 364h1v2h-1zM333 364h1v2h-1zM1057 364h1v1h-1zM14 275h1v3h-1zM410 275h1v2h-1zM798 274h1v3h-1zM1167 474h1v5h-1zM458 209h1v2h-1zM758 209h1v2h-1zM66 366h1v2h-1zM225 366h1v1h-1zM332 366h1v2h-1zM1058 365h1v2h-1zM1322 585h1v1h-1zM63 361h1v2h-1zM334 362h1v2h-1zM1056 362h1v2h-1zM15 278h1v2h-1zM409 277h1v2h-1zM799 277h1v2h-1zM473 188h1v1h-1zM488 188h1v2h-1zM464 196h1v2h-1zM749 196h1v2h-1zM1324 580h1v3h-1zM459 206h1v3h-1zM686 207h1v1h-1zM757 207h1v2h-1zM53 331h1v4h-1zM1162 454h1v4h-1zM1385 454h1v2h-1zM1171 491h1v5h-1zM1353 494h1v3h-1zM68 369h1v1h-1zM172 369h1v1h-1zM223 368h1v2h-1zM331 368h1v2h-1zM1060 368h1v2h-1zM17 282h1v2h-1zM406 283h1v2h-1zM803 283h1v1h-1zM858 283h1v1h-1zM1182 532h1v3h-1zM1341 532h1v3h-1zM1327 573h1v2h-1zM16 280h1v2h-1zM407 281h1v2h-1zM801 280h1v2h-1zM984 281h1v1h-1zM1156 437h1v3h-1zM13 272h1v3h-1zM411 273h1v2h-1zM1081 399h1v1h-1zM1164 462h1v4h-1zM1381 462h1v2h-1zM12 269h1v3h-1zM413 270h1v2h-1zM797 271h1v3h-1zM1201 572h1v1h-1zM1328 570h1v3h-1zM4 252h1v2h-1zM428 253h1v1h-1zM788 253h1v1h-1zM1371 474h1v1h-1zM11 267h1v2h-1zM414 268h1v2h-1zM795 266h1v3h-1zM85 383h1v1h-1zM111 383h1v2h-1zM212 383h1v1h-1zM1069 383h1v1h-1zM31 298h1v1h-1zM401 296h1v3h-1zM817 298h1v1h-1zM845 298h1v1h-1zM1001 298h1v1h-1zM71 372h1v1h-1zM174 372h1v1h-1zM221 371h1v2h-1zM329 371h1v2h-1zM1062 372h1v1h-1zM408 279h1v2h-1zM800 279h1v1h-1zM32 299h1v1h-1zM400 299h1v2h-1zM818 299h1v1h-1zM844 299h1v1h-1zM1002 299h1v2h-1zM113 380h1v1h-1zM215 379h1v2h-1zM1067 380h1v1h-1zM1181 529h1v3h-1zM1342 529h1v3h-1zM467 193h1v1h-1zM491 192h1v2h-1zM746 193h1v1h-1zM493 195h1v2h-1zM1172 496h1v4h-1zM1352 497h1v3h-1zM58 349h1v3h-1zM340 350h1v2h-1zM1048 349h1v2h-1zM20 288h1v1h-1zM404 288h1v2h-1zM807 288h1v1h-1zM853 288h1v1h-1zM77 378h1v1h-1zM115 378h1v1h-1zM178 378h1v1h-1zM216 378h1v1h-1zM1066 378h1v2h-1zM456 213h1v3h-1zM760 213h1v1h-1zM56 342h1v4h-1zM343 345h1v2h-1zM1045 344h1v2h-1zM1184 539h1v3h-1zM1339 538h1v3h-1zM21 289h1v1h-1zM808 289h1v1h-1zM852 289h1v1h-1zM994 289h1v1h-1zM106 392h1v2h-1zM1075 392h1v1h-1zM108 388h1v2h-1zM1072 388h1v1h-1zM457 211h1v2h-1zM759 211h1v2h-1zM1160 448h1v3h-1zM1388 448h1v2h-1zM454 218h1v2h-1zM764 219h1v1h-1zM761 214h1v2h-1zM460 204h1v2h-1zM755 204h1v2h-1zM1192 560h1v3h-1zM1332 559h1v3h-1zM1049 351h1v1h-1zM19 286h1v2h-1zM405 285h1v3h-1zM806 286h1v2h-1zM855 286h1v1h-1zM990 286h1v1h-1zM61 358h1v2h-1zM336 358h1v2h-1zM1053 357h1v2h-1zM617 205h1v1h-1zM1163 458h1v4h-1zM1383 458h1v2h-1zM50 322h1v3h-1zM385 323h1v1h-1zM1020 323h1v1h-1zM1174 504h1v4h-1zM1350 504h1v3h-1zM1183 535h1v4h-1zM1340 535h1v3h-1zM109 387h1v1h-1zM1071 386h1v2h-1zM440 239h1v1h-1zM779 239h1v2h-1zM591 206h1v1h-1zM756 206h1v1h-1zM1380 464h1v2h-1zM171 367h1v2h-1zM224 367h1v1h-1zM1059 367h1v1h-1zM1195 567h1v1h-1zM1330 565h1v3h-1zM658 212h1v1h-1zM796 269h1v2h-1zM211 384h1v2h-1zM1070 384h1v2h-1zM38 306h1v1h-1zM398 304h1v3h-1zM837 306h1v1h-1zM1007 306h1v2h-1zM75 376h1v1h-1zM177 376h1v2h-1zM218 375h1v2h-1zM1065 376h1v2h-1zM1179 522h1v3h-1zM1344 522h1v4h-1zM1170 487h1v4h-1zM1358 487h1v1h-1zM72 373h1v1h-1zM121 373h1v1h-1zM175 373h1v2h-1zM220 373h1v1h-1zM1063 373h1v2h-1zM45 314h1v2h-1zM394 314h1v2h-1zM1012 314h1v2h-1zM461 202h1v2h-1zM754 202h1v2h-1zM8 260h1v2h-1zM420 260h1v1h-1zM792 259h1v2h-1zM82 381h1v1h-1zM112 381h1v2h-1zM214 381h1v1h-1zM1068 381h1v2h-1zM596 203h1v1h-1zM614 203h1v1h-1zM693 203h1v1h-1zM1331 562h1v3h-1zM463 198h1v2h-1zM751 199h1v1h-1zM25 293h1v1h-1zM402 293h1v3h-1zM811 292h1v2h-1zM849 293h1v1h-1zM997 292h1v2h-1zM451 225h1v2h-1zM768 224h1v2h-1zM1185 542h1v2h-1zM1338 541h1v3h-1zM1382 460h1v2h-1zM655 214h1v1h-1zM2 249h1v2h-1zM432 249h1v1h-1zM786 249h1v2h-1zM65 365h1v1h-1zM1148 418h1v2h-1zM105 394h1v1h-1zM1077 394h1v1h-1zM1166 470h1v4h-1zM1375 471h1v1h-1zM1044 343h1v1h-1zM1155 434h1v3h-1zM1180 525h1v4h-1zM1343 526h1v3h-1zM55 339h1v3h-1zM364 340h1v1h-1zM1042 340h1v1h-1zM57 346h1v3h-1zM341 348h1v2h-1zM1047 348h1v1h-1zM49 320h1v2h-1zM387 321h1v1h-1zM370 334h1v1h-1zM1158 443h1v2h-1zM1391 443h1v2h-1zM34 301h1v2h-1zM399 301h1v3h-1zM821 301h1v1h-1zM842 301h1v1h-1zM1003 301h1v1h-1zM1159 445h1v3h-1zM1390 445h1v1h-1zM59 352h1v4h-1zM338 354h1v2h-1zM1051 354h1v2h-1zM813 295h1v1h-1zM847 295h1v1h-1zM999 295h1v1h-1zM439 240h1v2h-1zM780 241h1v1h-1zM1326 575h1v3h-1zM443 236h1v1h-1zM777 236h1v2h-1zM466 194h1v1h-1zM492 194h1v1h-1zM742 194h1v1h-1zM747 194h1v1h-1zM1173 500h1v4h-1zM1351 500h1v4h-1zM69 370h1v1h-1zM173 370h1v2h-1zM222 370h1v1h-1zM330 370h1v1h-1zM1061 370h1v2h-1zM54 335h1v4h-1zM367 337h1v1h-1zM1040 336h1v2h-1zM438 242h1v1h-1zM781 242h1v1h-1zM1175 508h1v4h-1zM1348 510h1v3h-1zM1196 568h1v1h-1zM1329 568h1v2h-1zM26 294h1v1h-1zM812 294h1v1h-1zM848 294h1v1h-1zM998 294h1v1h-1zM450 227h1v2h-1zM770 227h1v1h-1zM462 200h1v2h-1zM611 201h1v1h-1zM753 201h1v1h-1zM90 386h1v1h-1zM110 385h1v2h-1zM210 386h1v1h-1zM802 282h1v1h-1zM985 282h1v1h-1zM114 379h1v1h-1zM465 195h1v1h-1zM748 195h1v1h-1zM822 302h1v1h-1zM841 302h1v1h-1zM1004 302h1v1h-1zM43 312h1v1h-1zM395 312h1v2h-1zM1010 311h1v2h-1zM47 317h1v1h-1zM392 317h1v1h-1zM1013 316h1v2h-1zM107 390h1v2h-1zM1074 391h1v1h-1zM67 368h1v1h-1zM48 318h1v2h-1zM391 318h1v1h-1zM1014 318h1v1h-1zM51 325h1v3h-1zM1025 327h1v1h-1zM73 374h1v1h-1zM120 374h1v1h-1zM219 374h1v1h-1zM1349 507h1v3h-1zM70 371h1v1h-1zM74 375h1v1h-1zM119 375h1v1h-1zM176 375h1v1h-1zM1064 375h1v1h-1zM1169 483h1v4h-1zM1361 483h1v1h-1zM1200 571h1v1h-1zM76 377h1v1h-1zM116 377h1v1h-1zM217 377h1v1h-1zM429 252h1v1h-1zM787 251h1v2h-1zM52 328h1v3h-1zM379 328h1v1h-1zM1026 328h1v1h-1zM1082 400h1v1h-1zM1079 396h1v2h-1zM449 229h1v1h-1zM771 228h1v2h-1zM7 258h1v2h-1zM422 258h1v1h-1zM791 257h1v2h-1zM1177 515h1v3h-1zM1346 516h1v3h-1zM701 198h1v1h-1zM750 198h1v1h-1zM1325 578h1v2h-1zM36 304h1v1h-1zM825 304h1v1h-1zM839 304h1v1h-1zM1005 303h1v2h-1zM40 308h1v1h-1zM397 307h1v2h-1zM835 308h1v1h-1zM1008 308h1v2h-1zM60 356h1v2h-1zM337 356h1v2h-1zM18 284h1v2h-1zM804 284h1v1h-1zM857 284h1v1h-1zM988 284h1v1h-1zM698 200h1v1h-1zM752 200h1v1h-1zM1073 389h1v2h-1zM1046 346h1v2h-1zM41 309h1v2h-1zM396 309h1v3h-1zM455 216h1v2h-1zM652 216h1v1h-1zM762 216h1v2h-1zM339 352h1v2h-1zM1050 352h1v2h-1zM487 187h1v1h-1zM1368 476h1v1h-1zM1178 518h1v4h-1zM1345 519h1v3h-1zM39 307h1v1h-1zM836 307h1v1h-1zM1016 320h1v1h-1zM1387 450h1v2h-1zM1191 557h1v3h-1zM1333 556h1v3h-1zM5 254h1v2h-1zM425 255h1v1h-1zM789 254h1v2h-1zM62 360h1v1h-1zM335 360h1v2h-1zM1055 360h1v2h-1zM383 325h1v1h-1zM1022 325h1v1h-1zM419 261h1v1h-1zM793 261h1v2h-1zM484 185h1v1h-1zM10 264h1v3h-1zM416 264h1v2h-1zM794 263h1v3h-1zM213 382h1v1h-1zM412 272h1v1h-1zM376 330h1v1h-1zM1323 583h1v2h-1zM44 313h1v1h-1zM1011 313h1v1h-1zM1356 489h1v2h-1zM42 311h1v1h-1zM901 273h1v1h-1zM1193 563h1v2h-1zM1197 569h1v1h-1zM1149 420h1v2h-1zM23 291h1v1h-1zM403 290h1v3h-1zM810 291h1v1h-1zM851 290h1v2h-1zM996 291h1v1h-1zM30 297h1v1h-1zM846 296h1v2h-1zM1000 296h1v2h-1zM468 192h1v1h-1zM745 192h1v1h-1zM6 256h1v2h-1zM423 257h1v1h-1zM1186 544h1v3h-1zM1337 544h1v3h-1zM651 217h1v1h-1zM471 190h1v1h-1zM489 190h1v1h-1zM1389 446h1v2h-1zM763 218h1v1h-1zM369 335h1v1h-1zM1039 335h1v1h-1zM1190 555h1v2h-1zM1176 512h1v3h-1zM1347 513h1v3h-1zM3 251h1v1h-1zM430 251h1v1h-1zM1189 552h1v3h-1zM1334 553h1v3h-1zM35 303h1v1h-1zM840 303h1v1h-1zM1165 466h1v4h-1zM1379 466h1v2h-1zM1 247h1v2h-1zM433 248h1v1h-1zM785 248h1v1h-1zM1147 417h1v1h-1zM1076 393h1v1h-1zM481 183h1v1h-1zM33 300h1v1h-1zM843 300h1v1h-1zM382 326h1v1h-1zM1154 432h1v2h-1zM854 287h1v1h-1zM991 287h1v1h-1zM445 234h1v1h-1zM775 234h1v1h-1zM9 262h1v2h-1zM418 262h1v1h-1zM453 220h1v3h-1zM765 220h1v2h-1zM1157 440h1v3h-1zM1393 440h1v2h-1zM363 341h1v1h-1zM1043 341h1v2h-1zM261 361h1v1h-1zM1357 488h1v1h-1zM264 359h1v1h-1zM1054 359h1v1h-1zM46 316h1v1h-1zM393 316h1v1h-1zM431 250h1v1h-1zM1374 472h1v1h-1zM362 342h1v1h-1zM29 296h1v1h-1zM814 296h1v1h-1zM444 235h1v1h-1zM776 235h1v1h-1zM1052 356h1v1h-1zM452 223h1v2h-1zM767 223h1v1h-1zM373 332h1v1h-1zM436 244h1v1h-1zM782 243h1v2h-1zM476 186h1v1h-1zM447 231h1v1h-1zM773 231h1v1h-1zM805 285h1v1h-1zM856 285h1v1h-1zM989 285h1v1h-1zM1355 491h1v1h-1zM368 336h1v1h-1zM442 237h1v1h-1zM344 344h1v1h-1zM434 246h1v2h-1zM784 246h1v2h-1zM365 339h1v1h-1zM1041 338h1v2h-1zM1080 398h1v1h-1zM37 305h1v1h-1zM826 305h1v1h-1zM838 305h1v1h-1zM1006 305h1v1h-1zM1354 492h1v2h-1zM769 226h1v1h-1zM1009 310h1v1h-1zM435 245h1v1h-1zM783 245h1v1h-1zM472 189h1v1h-1zM1367 477h1v1h-1zM1161 451h1v3h-1zM1386 452h1v2h-1zM417 263h1v1h-1zM1078 395h1v1h-1zM366 338h1v1h-1zM424 256h1v1h-1zM790 256h1v1h-1zM415 266h1v2h-1zM386 322h1v1h-1zM1019 322h1v1h-1zM24 292h1v1h-1zM850 292h1v1h-1zM421 259h1v1h-1zM1360 484h1v1h-1zM1145 415h1v1h-1zM490 191h1v1h-1zM448 230h1v1h-1zM772 230h1v1h-1zM390 319h1v1h-1zM1015 319h1v1h-1zM342 347h1v1h-1zM1359 485h1v2h-1zM384 324h1v1h-1zM1021 324h1v1h-1zM1168 479h1v4h-1zM1363 480h1v1h-1zM1188 550h1v2h-1zM1335 550h1v3h-1zM437 243h1v1h-1zM1187 547h1v3h-1zM1336 547h1v3h-1zM1364 479h1v1h-1zM1384 456h1v2h-1zM441 238h1v1h-1zM778 238h1v1h-1zM1194 565h1v2h-1zM22 290h1v1h-1zM809 290h1v1h-1zM995 290h1v1h-1zM1378 468h1v2h-1zM1151 425h1v2h-1zM1101 402h1v1h-1zM766 222h1v1h-1zM1392 442h1v1h-1zM1362 481h1v2h-1zM1153 429h1v3h-1zM1150 422h1v3h-1zM0 246h1v1h-1zM446 232h1v2h-1zM774 232h1v2h-1zM1152 427h1v2h-1zM1143 413h1v1h-1zM1144 414h1v1h-1zM1146 416h1v1h-1z"/>
<rect x="0" y="272" width="1652" height="1" fill="#ff0000" />
<rect x="0" y="305" width="1652" height="1" fill="#ff0000" />
<rect x="0" y="341" width="1652" height="1" fill="#c0c0c0" />
<rect x="0" y="357" width="1652" height="1" fill="#32cd32" />
<rect x="0" y="386" width="1652" height="1" fill="#0000ff" />
<rect x="0" y="416" width="1652" height="1" fill="#0000ff" />
<rect x="1" y="203" width="1" height="61" fill="#000" />
<rect x="-1" y="213" width="5" height="16" fill="#000" />
<rect x="0" y="214" width="3" height="14" fill="#fff" />
<rect x="9" y="197" width="1" height="83" fill="#000" />
<rect x="7" y="213" width="5" height="67" fill="#000" />
<rect x="17" y="264" width="1" height="33" fill="#000" />
<rect x="15" y="278" width="5" height="17" fill="#000" />
<rect x="25" y="267" width="1" height="25" fill="#000" />
<rect x="23" y="268" width="5" height="24" fill="#000" />
<rect x="24" y="269" width="3" height="22" fill="#fff" />
<rect x="33" y="252" width="1" height="25" fill="#000" />
<rect x="31" y="256" width="5" height="12" fill="#000" />
<rect x="32" y="257" width="3" height="10" fill="#fff" />
<rect x="41" y="252" width="1" height="20" fill="#000" />
<rect x="39" y="256" width="5" height="14" fill="#000" />
<rect x="49" y="256" width="1" height="58" fill="#000" />
<rect x="47" y="268" width="5" height="27" fill="#000" />
<rect x="57" y="292" width="1" height="120" fill="#000" />
<rect x="55" y="294" width="5" height="82" fill="#000" />
<rect x="65" y="346" width="1" height="108" fill="#000" />
<rect x="63" y="371" width="5" height="6" fill="#000" />
<rect x="64" y="372" width="3" height="4" fill="#fff" />
<rect x="73" y="260" width="1" height="115" fill="#000" />
<rect x="71" y="272" width="5" height="101" fill="#000" />
<rect x="72" y="273" width="3" height="99" fill="#fff" />
<rect x="81" y="270" width="1" height="48" fill="#000" />
<rect x="79" y="271" width="5" height="46" fill="#000" />
<rect x="89" y="302" width="1" height="32" fill="#000" />
<rect x="87" y="307" width="5" height="10" fill="#000" />
<rect x="88" y="308" width="3" height="8" fill="#fff" />
<rect x="97" y="275" width="1" height="58" fill="#000" />
<rect x="95" y="308" width="5" height="6" fill="#000" />
<rect x="105" y="302" width="1" height="95" fill="#000" />
<rect x="103" y="313" width="5" height="27" fill="#000" />
<rect x="113" y="243" width="1" height="108" fill="#000" />
<rect x="111" y="245" width="5" height="95" fill="#000" />
<rect x="112" y="246" width="3" height="93" fill="#fff" />
<rect x="121" y="243" width="1" height="86" fill="#000" />
<rect x="119" y="244" width="5" height="36" fill="#000" />
<rect x="129" y="271" width="1" height="28" fill="#000" />
<rect x="127" y="274" width="5" height="5" fill="#000" />
<rect x="128" y="275" width="3" height="3" fill="#fff" />
<rect x="137" y="271" width="1" height="20" fill="#000" />
<rect x="135" y="273" width="5" height="6" fill="#000" />
<rect x="145" y="224" width="1" height="56" fill="#000" />
<rect x="143" y="224" width="5" height="55" fill="#000" />
<rect x="144" y="225" width="3" height="53" fill="#fff" />
<rect x="153" y="210" width="1" height="63" fill="#000" />
<rect x="151" y="224" width="5" height="33" fill="#000" />
<rect x="161" y="210" width="1" height="94" fill="#000" />
<rect x="159" y="256" width="5" height="26" fill="#000" />
<rect x="169" y="284" width="1" height="65" fill="#000" />
<rect x="167" y="284" width="5" height="2" fill="#000" />
<rect x="177" y="283" width="1" height="97" fill="#000" />
<rect x="175" y="284" width="5" height="90" fill="#000" />
<rect x="185" y="335" width="1" height="41" fill="#000" />
<rect x="183" y="344" width="5" height="30" fill="#000" />
<rect x="184" y="345" width="3" height="28" fill="#fff" />
<rect x="193" y="294" width="1" height="51" fill="#000" />
<rect x="191" y="299" width="5" height="46" fill="#000" />
<rect x="192" y="300" width="3" height="44" fill="#fff" />
<rect x="201" y="215" width="1" height="111" fill="#000" />
<rect x="199" y="230" width="5" height="70" fill="#000" />
<rect x="200" y="231" width="3" height="68" fill="#fff" />
<rect x="209" y="220" width="1" height="108" fill="#000" />
<rect x="207" y="230" width="5" height="83" fill="#000" />
<rect x="217" y="274" width="1" height="56" fill="#000" />
<rect x="215" y="291" width="5" height="21" fill="#000" />
<rect x="216" y="292" width="3" height="19" fill="#fff" />
<rect x="225" y="268" width="1" height="37" fill="#000" />
<rect x="223" y="284" width="5" height="9" fill="#000" />
<rect x="224" y="285" width="3" height="7" fill="#fff" />
<rect x="233" y="274" width="1" height="21" fill="#000" />
<rect x="231" y="284" width="5" height="1" fill="#000" />
<rect x="241" y="283" width="1" height="57" fill="#000" />
<rect x="239" y="283" width="5" height="45" fill="#000" />
<rect x="249" y="297" width="1" height="71" fill="#000" />
<rect x="247" y="311" width="5" height="18" fill="#000" />
<rect x="248" y="312" width="3" height="16" fill="#fff" />
<rect x="257" y="269" width="1" height="56" fill="#000" />
<rect x="255" y="276" width="5" height="35" fill="#000" />
<rect x="256" y="277" width="3" height="33" fill="#fff" />
<rect x="265" y="221" width="1" height="63" fill="#000" />
<rect x="263" y="234" width="5" height="43" fill="#000" />
<rect x="264" y="235" width="3" height="41" fill="#fff" />
<rect x="273" y="222" width="1" height="23" fill="#000" />
<rect x="271" y="227" width="5" height="9" fill="#000" />
<rect x="281" y="212" width="1" height="30" fill="#000" />
<rect x="279" y="213" width="5" height="24" fill="#000" />
<rect x="280" y="214" width="3" height="22" fill="#fff" />
<rect x="289" y="208" width="1" height="17" fill="#000" />
<rect x="287" y="213" width="5" height="7" fill="#000" />
<rect x="297" y="219" width="1" height="33" fill="#000" />
<rect x="295" y="219" width="5" height="29" fill="#000" />
<rect x="305" y="206" width="1" height="60" fill="#000" />
<rect x="303" y="220" width="5" height="28" fill="#000" />
<rect x="304" y="221" width="3" height="26" fill="#fff" />
<rect x="313" y="183" width="1" height="52" fill="#000" />
<rect x="311" y="185" width="5" height="36" fill="#000" />
<rect x="312" y="186" width="3" height="34" fill="#fff" />
<rect x="321" y="161" width="1" height="48" fill="#000" />
<rect x="319" y="175" width="5" height="11" fill="#000" />
<rect x="320" y="176" width="3" height="9" fill="#fff" />
<rect x="329" y="171" width="1" height="19" fill="#000" />
<rect x="327" y="174" width="5" height="2" fill="#000" />
<rect x="337" y="163" width="1" height="17" fill="#000" />
<rect x="335" y="168" width="5" height="8" fill="#000" />
<rect x="336" y="169" width="3" height="6" fill="#fff" />
<rect x="345" y="151" width="1" height="37" fill="#000" />
<rect x="343" y="168" width="5" height="7" fill="#000" />
<rect x="353" y="149" width="1" height="37" fill="#000" />
<rect x="351" y="157" width="5" height="18" fill="#000" />
<rect x="352" y="158" width="3" height="16" fill="#fff" />
<rect x="361" y="151" width="1" height="24" fill="#000" />
<rect x="359" y="152" width="5" height="6" fill="#000" />
<rect x="360" y="153" width="3" height="4" fill="#fff" />
<rect x="369" y="119" width="1" height="36" fill="#000" />
<rect x="367" y="130" width="5" height="23" fill="#000" />
<rect x="368" y="131" width="3" height="21" fill="#fff" />
<rect x="377" y="123" width="1" height="8" fill="#000" />
<rect x="375" y="127" width="5" height="3" fill="#000" />
<rect x="376" y="128" width="3" height="1" fill="#fff" />
<rect x="385" y="116" width="1" height="13" fill="#000" />
<rect x="383" y="126" width="5" height="2" fill="#000" />
<rect x="393" y="114" width="1" height="22" fill="#000" />
<rect x="391" y="118" width="5" height="9" fill="#000" />
<rect x="392" y="119" width="3" height="7" fill="#fff" />
<rect x="401" y="110" width="1" height="31" fill="#000" />
<rect x="399" y="118" width="5" height="5" fill="#000" />
<rect x="409" y="89" width="1" height="46" fill="#000" />
<rect x="407" y="94" width="5" height="29" fill="#000" />
<rect x="408" y="95" width="3" height="27" fill="#fff" />
<rect x="417" y="78" width="1" height="25" fill="#000" />
<rect x="415" y="94" width="5" height="4" fill="#000" />
<rect x="425" y="92" width="1" height="11" fill="#000" />
<rect x="423" y="94" width="5" height="5" fill="#000" />
<rect x="424" y="95" width="3" height="3" fill="#fff" />
<rect x="433" y="93" width="1" height="7" fill="#000" />
<rect x="431" y="94" width="5" height="1" fill="#000" />
<rect x="441" y="94" width="1" height="23" fill="#000" />
<rect x="439" y="94" width="5" height="15" fill="#000" />
<rect x="449" y="94" width="1" height="50" fill="#000" />
<rect x="447" y="108" width="5" height="18" fill="#000" />
<rect x="457" y="118" width="1" height="40" fill="#000" />
<rect x="455" y="125" width="5" height="27" fill="#000" />
<rect x="465" y="136" width="1" height="38" fill="#000" />
<rect x="463" y="141" width="5" height="11" fill="#000" />
<rect x="464" y="142" width="3" height="9" fill="#fff" />
<rect x="473" y="136" width="1" height="21" fill="#000" />
<rect x="471" y="141" width="5" height="5" fill="#000" />
<rect x="481" y="134" width="1" height="12" fill="#000" />
<rect x="479" y="142" width="5" height="4" fill="#000" />
<rect x="480" y="143" width="3" height="2" fill="#fff" />
<rect x="489" y="135" width="1" height="66" fill="#000" />
<rect x="487" y="142" width="5" height="56" fill="#000" />
<rect x="497" y="157" width="1" height="56" fill="#000" />
<rect x="495" y="197" width="5" height="11" fill="#000" />
<rect x="505" y="150" width="1" height="64" fill="#000" />
<rect x="503" y="151" width="5" height="57" fill="#000" />
<rect x="504" y="152" width="3" height="55" fill="#fff" />
<rect x="513" y="134" width="1" height="44" fill="#000" />
<rect x="511" y="151" width="5" height="22" fill="#000" />
<rect x="521" y="159" width="1" height="12" fill="#000" />
<rect x="519" y="162" width="5" height="2" fill="#000" />
<rect x="529" y="162" width="1" height="31" fill="#000" />
<rect x="527" y="163" width="5" height="17" fill="#000" />
<rect x="537" y="160" width="1" height="20" fill="#000" />
<rect x="535" y="167" width="5" height="13" fill="#000" />
<rect x="536" y="168" width="3" height="11" fill="#fff" />
<rect x="545" y="164" width="1" height="28" fill="#000" />
<rect x="543" y="167" width="5" height="11" fill="#000" />
<rect x="553" y="150" width="1" height="34" fill="#000" />
<rect x="551" y="159" width="5" height="19" fill="#000" />
<rect x="552" y="160" width="3" height="17" fill="#fff" />
<rect x="561" y="140" width="1" height="45" fill="#000" />
<rect x="559" y="143" width="5" height="17" fill="#000" />
<rect x="560" y="144" width="3" height="15" fill="#fff" />
<rect x="569" y="135" width="1" height="48" fill="#000" />
<rect x="567" y="143" width="5" height="20" fill="#000" />
<rect x="577" y="159" width="1" height="17" fill="#000" />
<rect x="575" y="162" width="5" height="7" fill="#000" />
<rect x="585" y="161" width="1" height="15" fill="#000" />
<rect x="583" y="168" width="5" height="4" fill="#000" />
<rect x="593" y="145" width="1" height="28" fill="#000" />
<rect x="591" y="167" width="5" height="5" fill="#000" />
<rect x="592" y="168" width="3" height="3" fill="#fff" />
<rect x="601" y="147" width="1" height="26" fill="#000" />
<rect x="599" y="150" width="5" height="19" fill="#000" />
<rect x="600" y="151" width="3" height="17" fill="#fff" />
<rect x="609" y="114" width="1" height="37" fill="#000" />
<rect x="607" y="135" width="5" height="16" fill="#000" />
<rect x="608" y="136" width="3" height="14" fill="#fff" />
<rect x="617" y="102" width="1" height="39" fill="#000" />
<rect x="615" y="104" width="5" height="32" fill="#000" />
<rect x="616" y="105" width="3" height="30" fill="#fff" />
<rect x="625" y="99" width="1" height="12" fill="#000" />
<rect x="623" y="100" width="5" height="4" fill="#000" />
<rect x="624" y="101" width="3" height="2" fill="#fff" />
<rect x="633" y="91" width="1" height="16" fill="#000" />
<rect x="631" y="100" width="5" height="3" fill="#000" />
<rect x="641" y="83" width="1" height="23" fill="#000" />
<rect x="639" y="87" width="5" height="17" fill="#000" />
<rect x="640" y="88" width="3" height="15" fill="#fff" />
<rect x="649" y="64" width="1" height="25" fill="#000" />
<rect x="647" y="64" width="5" height="24" fill="#000" />
<rect x="648" y="65" width="3" height="22" fill="#fff" />
<rect x="657" y="63" width="1" height="21" fill="#000" />
<rect x="655" y="64" width="5" height="10" fill="#000" />
<rect x="665" y="56" width="1" height="27" fill="#000" />
<rect x="663" y="62" width="5" height="11" fill="#000" />
<rect x="664" y="63" width="3" height="9" fill="#fff" />
<rect x="673" y="60" width="1" height="18" fill="#000" />
<rect x="671" y="63" width="5" height="9" fill="#000" />
<rect x="681" y="62" width="1" height="12" fill="#000" />
<rect x="679" y="62" width="5" height="10" fill="#000" />
<rect x="680" y="63" width="3" height="8" fill="#fff" />
<rect x="689" y="58" width="1" height="16" fill="#000" />
<rect x="687" y="61" width="5" height="5" fill="#000" />
<rect x="697" y="55" width="1" height="60" fill="#000" />
<rect x="695" y="66" width="5" height="21" fill="#000" />
<rect x="705" y="73" width="1" height="76" fill="#000" />
<rect x="703" y="85" width="5" height="60" fill="#000" />
<rect x="713" y="130" width="1" height="37" fill="#000" />
<rect x="711" y="144" width="5" height="14" fill="#000" />
<rect x="721" y="157" width="1" height="15" fill="#000" />
<rect x="719" y="157" width="5" height="7" fill="#000" />
<rect x="729" y="159" width="1" height="28" fill="#000" />
<rect x="727" y="164" width="5" height="1" fill="#000" />
<rect x="737" y="151" width="1" height="24" fill="#000" />
<rect x="735" y="164" width="5" height="2" fill="#000" />
<rect x="745" y="117" width="1" height="51" fill="#000" />
<rect x="743" y="130" width="5" height="37" fill="#000" />
<rect x="744" y="131" width="3" height="35" fill="#fff" />
<rect x="753" y="122" width="1" height="106" fill="#000" />
<rect x="751" y="131" width="5" height="81" fill="#000" />
<rect x="761" y="194" width="1" height="44" fill="#000" />
<rect x="759" y="214" width="5" height="2" fill="#000" />
<rect x="769" y="204" width="1" height="23" fill="#000" />
<rect x="767" y="208" width="5" height="10" fill="#000" />
<rect x="768" y="209" width="3" height="8" fill="#fff" />
<rect x="777" y="202" width="1" height="20" fill="#000" />
<rect x="775" y="208" width="5" height="1" fill="#000" />
<rect x="785" y="201" width="1" height="23" fill="#000" />
<rect x="783" y="207" width="5" height="2" fill="#000" />
<rect x="793" y="209" width="1" height="66" fill="#000" />
<rect x="791" y="209" width="5" height="43" fill="#000" />
<rect x="801" y="205" width="1" height="68" fill="#000" />
<rect x="799" y="251" width="5" height="19" fill="#000" />
<rect x="809" y="219" width="1" height="62" fill="#000" />
<rect x="807" y="256" width="5" height="14" fill="#000" />
<rect x="808" y="257" width="3" height="12" fill="#fff" />
<rect x="817" y="230" width="1" height="37" fill="#000" />
<rect x="815" y="236" width="5" height="20" fill="#000" />
<rect x="816" y="237" width="3" height="18" fill="#fff" />
<rect x="825" y="232" width="1" height="20" fill="#000" />
<rect x="823" y="234" width="5" height="8" fill="#000" />
<rect x="833" y="241" width="1" height="21" fill="#000" />
<rect x="831" y="242" width="5" height="10" fill="#000" />
<rect x="841" y="182" width="1" height="76" fill="#000" />
<rect x="839" y="187" width="5" height="66" fill="#000" />
<rect x="840" y="188" width="3" height="64" fill="#fff" />
<rect x="849" y="170" width="1" height="36" fill="#000" />
<rect x="847" y="175" width="5" height="13" fill="#000" />
<rect x="848" y="176" width="3" height="11" fill="#fff" />
<rect x="857" y="172" width="1" height="28" fill="#000" />
<rect x="855" y="175" width="5" height="10" fill="#000" />
<rect x="865" y="177" width="1" height="28" fill="#000" />
<rect x="863" y="185" width="5" height="5" fill="#000" />
<rect x="873" y="186" width="1" height="7" fill="#000" />
<rect x="871" y="189" width="5" height="1" fill="#000" />
<rect x="881" y="177" width="1" height="13" fill="#000" />
<rect x="879" y="181" width="5" height="7" fill="#000" />
<rect x="880" y="182" width="3" height="5" fill="#fff" />
<rect x="889" y="156" width="1" height="42" fill="#000" />
<rect x="887" y="182" width="5" height="3" fill="#000" />
<rect x="897" y="179" width="1" height="41" fill="#000" />
<rect x="895" y="186" width="5" height="33" fill="#000" />
<rect x="905" y="178" width="1" height="52" fill="#000" />
<rect x="903" y="184" width="5" height="33" fill="#000" />
<rect x="904" y="185" width="3" height="31" fill="#fff" />
<rect x="913" y="171" width="1" height="23" fill="#000" />
<rect x="911" y="184" width="5" height="8" fill="#000" />
<rect x="921" y="186" width="1" height="19" fill="#000" />
<rect x="919" y="192" width="5" height="13" fill="#000" />
<rect x="929" y="194" width="1" height="21" fill="#000" />
<rect x="927" y="195" width="5" height="10" fill="#000" />
<rect x="928" y="196" width="3" height="8" fill="#fff" />
<rect x="937" y="187" width="1" height="33" fill="#000" />
<rect x="935" y="194" width="5" height="16" fill="#000" />
<rect x="945" y="187" width="1" height="74" fill="#000" />
<rect x="943" y="209" width="5" height="39" fill="#000" />
<rect x="953" y="235" width="1" height="33" fill="#000" />
<rect x="951" y="247" width="5" height="20" fill="#000" />
<rect x="961" y="265" width="1" height="21" fill="#000" />
<rect x="959" y="266" width="5" height="6" fill="#000" />
<rect x="969" y="246" width="1" height="36" fill="#000" />
<rect x="967" y="250" width="5" height="24" fill="#000" />
<rect x="968" y="251" width="3" height="22" fill="#fff" />
<rect x="977" y="238" width="1" height="19" fill="#000" />
<rect x="975" y="251" width="5" height="3" fill="#000" />
<rect x="985" y="244" width="1" height="26" fill="#000" />
<rect x="983" y="253" width="5" height="11" fill="#000" />
<rect x="993" y="254" width="1" height="45" fill="#000" />
<rect x="991" y="264" width="5" height="28" fill="#000" />
<rect x="1001" y="277" width="1" height="48" fill="#000" />
<rect x="999" y="280" width="5" height="12" fill="#000" />
<rect x="1000" y="281" width="3" height="10" fill="#fff" />
<rect x="1009" y="275" width="1" height="51" fill="#000" />
<rect x="1007" y="280" width="5" height="25" fill="#000" />
<rect x="1017" y="318" width="1" height="17" fill="#000" />
<rect x="1015" y="322" width="5" height="10" fill="#000" />
<rect x="1016" y="323" width="3" height="8" fill="#fff" />
<rect x="1025" y="279" width="1" height="52" fill="#000" />
<rect x="1023" y="290" width="5" height="33" fill="#000" />
<rect x="1024" y="291" width="3" height="31" fill="#fff" />
<rect x="1033" y="261" width="1" height="32" fill="#000" />
<rect x="1031" y="270" width="5" height="21" fill="#000" />
<rect x="1032" y="271" width="3" height="19" fill="#fff" />
<rect x="1041" y="268" width="1" height="63" fill="#000" />
<rect x="1039" y="270" width="5" height="48" fill="#000" />
<rect x="1049" y="318" width="1" height="34" fill="#000" />
<rect x="1047" y="318" width="5" height="17" fill="#000" />
<rect x="1057" y="333" width="1" height="23" fill="#000" />
<rect x="1055" y="335" width="5" height="19" fill="#000" />
<rect x="1065" y="368" width="1" height="32" fill="#000" />
<rect x="1063" y="371" width="5" height="6" fill="#000" />
<rect x="1073" y="362" width="1" height="32" fill="#000" />
<rect x="1071" y="376" width="5" height="12" fill="#000" />
<rect x="1081" y="365" width="1" height="25" fill="#000" />
<rect x="1079" y="388" width="5" height="2" fill="#000" />
<rect x="1089" y="312" width="1" height="79" fill="#000" />
<rect x="1087" y="326" width="5" height="64" fill="#000" />
<rect x="1088" y="327" width="3" height="62" fill="#fff" />
<rect x="1097" y="305" width="1" height="59" fill="#000" />
<rect x="1095" y="326" width="5" height="29" fill="#000" />
<rect x="1105" y="343" width="1" height="73" fill="#000" />
<rect x="1103" y="354" width="5" height="17" fill="#000" />
<rect x="1113" y="352" width="1" height="46" fill="#000" />
<rect x="1111" y="359" width="5" height="11" fill="#000" />
<rect x="1112" y="360" width="3" height="9" fill="#fff" />
<rect x="1121" y="357" width="1" height="16" fill="#000" />
<rect x="1119" y="359" width="5" height="5" fill="#000" />
<rect x="1129" y="355" width="1" height="18" fill="#000" />
<rect x="1127" y="361" width="5" height="3" fill="#000" />
<rect x="1128" y="362" width="3" height="1" fill="#fff" />
<rect x="1137" y="338" width="1" height="30" fill="#000" />
<rect x="1135" y="361" width="5" height="4" fill="#000" />
<rect x="1145" y="344" width="1" height="58" fill="#000" />
<rect x="1143" y="365" width="5" height="26" fill="#000" />
<rect x="1153" y="369" width="1" height="73" fill="#000" />
<rect x="1151" y="390" width="5" height="46" fill="#000" />
<rect x="1161" y="430" width="1" height="27" fill="#000" />
<rect x="1159" y="436" width="5" height="14" fill="#000" />
<rect x="1169" y="445" width="1" height="127" fill="#000" />
<rect x="1167" y="449" width="5" height="111" fill="#000" />
<rect x="1177" y="533" width="1" height="47" fill="#000" />
<rect x="1175" y="562" width="5" height="3" fill="#000" />
<rect x="1185" y="512" width="1" height="66" fill="#000" />
<rect x="1183" y="551" width="5" height="15" fill="#000" />
<rect x="1184" y="552" width="3" height="13" fill="#fff" />
<rect x="1193" y="524" width="1" height="53" fill="#000" />
<rect x="1191" y="540" width="5" height="12" fill="#000" />
<rect x="1192" y="541" width="3" height="10" fill="#fff" />
<rect x="1201" y="477" width="1" height="85" fill="#000" />
<rect x="1199" y="482" width="5" height="58" fill="#000" />
<rect x="1200" y="483" width="3" height="56" fill="#fff" />
<rect x="1209" y="429" width="1" height="59" fill="#000" />
<rect x="1207" y="456" width="5" height="26" fill="#000" />
<rect x="1208" y="457" width="3" height="24" fill="#fff" />
<rect x="1217" y="440" width="1" height="26" fill="#000" />
<rect x="1215" y="450" width="5" height="7" fill="#000" />
<rect x="1216" y="451" width="3" height="5" fill="#fff" />
<rect x="1225" y="446" width="1" height="29" fill="#000" />
<rect x="1223" y="450" width="5" height="16" fill="#000" />
<rect x="1233" y="457" width="1" height="37" fill="#000" />
<rect x="1231" y="466" width="5" height="4" fill="#000" />
<rect x="1241" y="362" width="1" height="110" fill="#000" />
<rect x="1239" y="369" width="5" height="102" fill="#000" />
<rect x="1240" y="370" width="3" height="100" fill="#fff" />
<rect x="1249" y="307" width="1" height="70" fill="#000" />
<rect x="1247" y="326" width="5" height="44" fill="#000" />
<rect x="1248" y="327" width="3" height="42" fill="#fff" />
<rect x="1257" y="310" width="1" height="28" fill="#000" />
<rect x="1255" y="314" width="5" height="13" fill="#000" />
<rect x="1256" y="315" width="3" height="11" fill="#fff" />
<rect x="1265" y="358" width="1" height="49" fill="#000" />
<rect x="1263" y="358" width="5" height="28" fill="#000" />
<rect x="1273" y="358" width="1" height="54" fill="#000" />
<rect x="1271" y="385" width="5" height="18" fill="#000" />
<rect x="1281" y="363" width="1" height="41" fill="#000" />
<rect x="1279" y="372" width="5" height="32" fill="#000" />
<rect x="1280" y="373" width="3" height="30" fill="#fff" />
<rect x="1289" y="359" width="1" height="33" fill="#000" />
<rect x="1287" y="371" width="5" height="6" fill="#000" />
<rect x="1297" y="345" width="1" height="46" fill="#000" />
<rect x="1295" y="347" width="5" height="30" fill="#000" />
<rect x="1296" y="348" width="3" height="28" fill="#fff" />
<rect x="1305" y="324" width="1" height="75" fill="#000" />
<rect x="1303" y="346" width="5" height="31" fill="#000" />
<rect x="1313" y="321" width="1" height="68" fill="#000" />
<rect x="1311" y="326" width="5" height="52" fill="#000" />
<rect x="1312" y="327" width="3" height="50" fill="#fff" />
<rect x="1321" y="321" width="1" height="21" fill="#000" />
<rect x="1319" y="324" width="5" height="12" fill="#000" />
<rect x="1329" y="302" width="1" height="39" fill="#000" />
<rect x="1327" y="316" width="5" height="19" fill="#000" />
<rect x="1328" y="317" width="3" height="17" fill="#fff" />
<rect x="1337" y="305" width="1" height="77" fill="#000" />
<rect x="1335" y="315" width="5" height="60" fill="#000" />
<rect x="1345" y="336" width="1" height="71" fill="#000" />
<rect x="1343" y="374" width="5" height="27" fill="#000" />
<rect x="1353" y="384" width="1" height="66" fill="#000" />
<rect x="1351" y="400" width="5" height="29" fill="#000" />
<rect x="1361" y="401" width="1" height="47" fill="#000" />
<rect x="1359" y="403" width="5" height="26" fill="#000" />
<rect x="1360" y="404" width="3" height="24" fill="#fff" />
<rect x="1369" y="394" width="1" height="18" fill="#000" />
<rect x="1367" y="403" width="5" height="2" fill="#000" />
<rect x="1377" y="404" width="1" height="38" fill="#000" />
<rect x="1375" y="404" width="5" height="20" fill="#000" />
<rect x="1385" y="384" width="1" height="49" fill="#000" />
<rect x="1383" y="387" width="5" height="37" fill="#000" />
<rect x="1384" y="388" width="3" height="35" fill="#fff" />
<rect x="1393" y="354" width="1" height="58" fill="#000" />
<rect x="1391" y="359" width="5" height="29" fill="#000" />
<rect x="1392" y="360" width="3" height="27" fill="#fff" />
<rect x="1401" y="315" width="1" height="54" fill="#000" />
<rect x="1399" y="334" width="5" height="26" fill="#000" />
<rect x="1400" y="335" width="3" height="24" fill="#fff" />
<rect x="1409" y="330" width="1" height="13" fill="#000" />
<rect x="1407" y="335" width="5" height="7" fill="#000" />
</g>
<rect x="1647" y="270" width="5" height="5" fill="#ff0000" shape-rendering="crispEdges"/>
<rect x="1648" y="271" width="3" height="3" fill="#fff" shape-rendering="crispEdges"/>
<rect x="1647" y="303" width="5" height="5" fill="#ff0000" shape-rendering="crispEdges"/>
<rect x="1648" y="304" width="3" height="3" fill="#fff" shape-rendering="crispEdges"/>
<rect x="1647" y="355" width="5" height="5" fill="#32cd32" shape-rendering="crispEdges"/>
<rect x="1648" y="356" width="3" height="3" fill="#fff" shape-rendering="crispEdges"/>
<rect x="1647" y="384" width="5" height="5" fill="#0000ff" shape-rendering="crispEdges"/>
<rect x="1648" y="385" width="3" height="3" fill="#fff" shape-rendering="crispEdges"/>
<rect x="1647" y="414" width="5" height="5" fill="#0000ff" shape-rendering="crispEdges"/>
<rect x="1648" y="415" width="3" height="3" fill="#fff" shape-rendering="crispEdges"/>
<rect x="1653" y="30" width="2" height="1" fill="#000" shape-rendering="crispEdges"/>
<text transform="translate(1658 33.2) scale(.935 1)" font-family="Liberation Sans, sans-serif" font-size="9.9" stroke-width="0.25" fill="#000" stroke="#000">35918.5</text>
<rect x="1653" y="63" width="2" height="1" fill="#000" shape-rendering="crispEdges"/>
<text transform="translate(1658 66.2) scale(.935 1)" font-family="Liberation Sans, sans-serif" font-size="9.9" stroke-width="0.25" fill="#000" stroke="#000">35691.0</text>
<rect x="1653" y="96" width="2" height="1" fill="#000" shape-rendering="crispEdges"/>
<text transform="translate(1658 99.2) scale(.935 1)" font-family="Liberation Sans, sans-serif" font-size="9.9" stroke-width="0.25" fill="#000" stroke="#000">35463.5</text>
<rect x="1653" y="129" width="2" height="1" fill="#000" shape-rendering="crispEdges"/>
<text transform="translate(1658 132.2) scale(.935 1)" font-family="Liberation Sans, sans-serif" font-size="9.9" stroke-width="0.25" fill="#000" stroke="#000">35242.5</text>
<rect x="1653" y="162" width="2" height="1" fill="#000" shape-rendering="crispEdges"/>
<text transform="translate(1658 165.2) scale(.935 1)" font-family="Liberation Sans, sans-serif" font-size="9.9" stroke-width="0.25" fill="#000" stroke="#000">35015.0</text>
<rect x="1653" y="195" width="2" height="1" fill="#000" shape-rendering="crispEdges"/>
<text transform="translate(1658 198.2) scale(.935 1)" font-family="Liberation Sans, sans-serif" font-size="9.9" stroke-width="0.25" fill="#000" stroke="#000">34794.0</text>
<rect x="1653" y="228" width="2" height="1" fill="#000" shape-rendering="crispEdges"/>
<text transform="translate(1658 231.2) scale(.935 1)" font-family="Liberation Sans, sans-serif" font-size="9.9" stroke-width="0.25" fill="#000" stroke="#000">34566.5</text>
<rect x="1653" y="261" width="2" height="1" fill="#000" shape-rendering="crispEdges"/>
<text transform="translate(1658 264.2) scale(.935 1)" font-family="Liberation Sans, sans-serif" font-size="9.9" stroke-width="0.25" fill="#000" stroke="#000">34339.0</text>
<rect x="1653" y="294" width="2" height="1" fill="#000" shape-rendering="crispEdges"/>
<text transform="translate(1658 297.2) scale(.935 1)" font-family="Liberation Sans, sans-serif" font-size="9.9" stroke-width="0.25" fill="#000" stroke="#000">34118.0</text>
<rect x="1653" y="327" width="2" height="1" fill="#000" shape-rendering="crispEdges"/>
<text transform="translate(1658 330.2) scale(.935 1)" font-family="Liberation Sans, sans-serif" font-size="9.9" stroke-width="0.25" fill="#000" stroke="#000">33890.5</text>
<rect x="1653" y="360" width="2" height="1" fill="#000" shape-rendering="crispEdges"/>
<text transform="translate(1658 363.2) scale(.935 1)" font-family="Liberation Sans, sans-serif" font-size="9.9" stroke-width="0.25" fill="#000" stroke="#000">33669.5</text>
<rect x="1653" y="393" width="2" height="1" fill="#000" shape-rendering="crispEdges"/>
<text transform="translate(1658 396.2) scale(.935 1)" font-family="Liberation Sans, sans-serif" font-size="9.9" stroke-width="0.25" fill="#000" stroke="#000">33442.0</text>
<rect x="1653" y="426" width="2" height="1" fill="#000" shape-rendering="crispEdges"/>
<text transform="translate(1658 429.2) scale(.935 1)" font-family="Liberation Sans, sans-serif" font-size="9.9" stroke-width="0.25" fill="#000" stroke="#000">33221.0</text>
<rect x="1653" y="459" width="2" height="1" fill="#000" shape-rendering="crispEdges"/>
<text transform="translate(1658 462.2) scale(.935 1)" font-family="Liberation Sans, sans-serif" font-size="9.9" stroke-width="0.25" fill="#000" stroke="#000">32993.5</text>
<rect x="1653" y="492" width="2" height="1" fill="#000" shape-rendering="crispEdges"/>
<text transform="translate(1658 495.2) scale(.935 1)" font-family="Liberation Sans, sans-serif" font-size="9.9" stroke-width="0.25" fill="#000" stroke="#000">32766.0</text>
<rect x="1653" y="525" width="2" height="1" fill="#000" shape-rendering="crispEdges"/>
<text transform="translate(1658 528.2) scale(.935 1)" font-family="Liberation Sans, sans-serif" font-size="9.9" stroke-width="0.25" fill="#000" stroke="#000">32545.0</text>
<rect x="1653" y="558" width="2" height="1" fill="#000" shape-rendering="crispEdges"/>
<text transform="translate(1658 561.2) scale(.935 1)" font-family="Liberation Sans, sans-serif" font-size="9.9" stroke-width="0.25" fill="#000" stroke="#000">32317.5</text>
<rect x="1653" y="591" width="2" height="1" fill="#000" shape-rendering="crispEdges"/>
<text transform="translate(1658 594.2) scale(.935 1)" font-family="Liberation Sans, sans-serif" font-size="9.9" stroke-width="0.25" fill="#000" stroke="#000">32096.5</text>
<rect x="1654" y="266" width="41" height="11" fill="#ff0000" shape-rendering="crispEdges"/>
<text transform="translate(1658 274.3) scale(.935 1)" font-family="Liberation Sans, sans-serif" font-size="9.9" stroke-width="0.25" fill="#fff" stroke="#fff">34266.7</text>
<rect x="1654" y="299" width="41" height="11" fill="#ff0000" shape-rendering="crispEdges"/>
<text transform="translate(1658 307.3) scale(.935 1)" font-family="Liberation Sans, sans-serif" font-size="9.9" stroke-width="0.25" fill="#fff" stroke="#fff">34042.3</text>
<rect x="1654" y="336" width="41" height="11" fill="#000" shape-rendering="crispEdges"/>
<text transform="translate(1658 344.3) scale(.935 1)" font-family="Liberation Sans, sans-serif" font-size="9.9" stroke-width="0.25" fill="#fff" stroke="#fff">33798.0</text>
<rect x="1654" y="351" width="41" height="11" fill="#32cd32" shape-rendering="crispEdges"/>
<text transform="translate(1658 359.3) scale(.935 1)" font-family="Liberation Sans, sans-serif" font-size="9.9" stroke-width="0.25" fill="#fff" stroke="#fff">33688.7</text>
<rect x="1654" y="380" width="41" height="11" fill="#0000ff" shape-rendering="crispEdges"/>
<text transform="translate(1658 388.3) scale(.935 1)" font-family="Liberation Sans, sans-serif" font-size="9.9" stroke-width="0.25" fill="#fff" stroke="#fff">33491.5</text>
<rect x="1654" y="410" width="41" height="11" fill="#0000ff" shape-rendering="crispEdges"/>
<text transform="translate(1658 418.3) scale(.935 1)" font-family="Liberation Sans, sans-serif" font-size="9.9" stroke-width="0.25" fill="#fff" stroke="#fff">33287.5</text>
<g clip-path="url(#c2)">
<g shape-rendering="crispEdges">
<rect x="1" y="657" width="1" height="53" fill="#c0c0c0" />
<rect x="9" y="657" width="1" height="59" fill="#c0c0c0" />
<rect x="17" y="657" width="1" height="63" fill="#c0c0c0" />
<rect x="25" y="657" width="1" height="65" fill="#c0c0c0" />
<rect x="33" y="657" width="1" height="63" fill="#c0c0c0" />
<rect x="41" y="657" width="1" height="63" fill="#c0c0c0" />
<rect x="49" y="657" width="1" height="63" fill="#c0c0c0" />
<rect x="57" y="657" width="1" height="73" fill="#c0c0c0" />
<rect x="65" y="657" width="1" height="77" fill="#c0c0c0" />
<rect x="73" y="657" width="1" height="72" fill="#c0c0c0" />
<rect x="81" y="657" width="1" height="69" fill="#c0c0c0" />
<rect x="89" y="657" width="1" height="67" fill="#c0c0c0" />
<rect x="97" y="657" width="1" height="65" fill="#c0c0c0" />
<rect x="105" y="657" width="1" height="65" fill="#c0c0c0" />
<rect x="113" y="657" width="1" height="55" fill="#c0c0c0" />
<rect x="121" y="657" width="1" height="49" fill="#c0c0c0" />
<rect x="129" y="657" width="1" height="43" fill="#c0c0c0" />
<rect x="137" y="657" width="1" height="40" fill="#c0c0c0" />
<rect x="145" y="657" width="1" height="31" fill="#c0c0c0" />
<rect x="153" y="657" width="1" height="25" fill="#c0c0c0" />
<rect x="161" y="657" width="1" height="24" fill="#c0c0c0" />
<rect x="169" y="657" width="1" height="23" fill="#c0c0c0" />
<rect x="177" y="657" width="1" height="33" fill="#c0c0c0" />
<rect x="185" y="657" width="1" height="35" fill="#c0c0c0" />
<rect x="193" y="657" width="1" height="32" fill="#c0c0c0" />
<rect x="201" y="657" width="1" height="23" fill="#c0c0c0" />
<rect x="209" y="657" width="1" height="23" fill="#c0c0c0" />
<rect x="217" y="657" width="1" height="22" fill="#c0c0c0" />
<rect x="225" y="657" width="1" height="20" fill="#c0c0c0" />
<rect x="233" y="657" width="1" height="18" fill="#c0c0c0" />
<rect x="241" y="657" width="1" height="20" fill="#c0c0c0" />
<rect x="249" y="657" width="1" height="20" fill="#c0c0c0" />
<rect x="257" y="657" width="1" height="15" fill="#c0c0c0" />
<rect x="265" y="657" width="1" height="9" fill="#c0c0c0" />
<rect x="273" y="657" width="1" height="3" fill="#c0c0c0" />
<rect x="281" y="654" width="1" height="3" fill="#c0c0c0" />
<rect x="289" y="650" width="1" height="7" fill="#c0c0c0" />
<rect x="297" y="649" width="1" height="8" fill="#c0c0c0" />
<rect x="305" y="646" width="1" height="11" fill="#c0c0c0" />
<rect x="313" y="640" width="1" height="17" fill="#c0c0c0" />
<rect x="321" y="634" width="1" height="23" fill="#c0c0c0" />
<rect x="329" y="630" width="1" height="27" fill="#c0c0c0" />
<rect x="337" y="627" width="1" height="30" fill="#c0c0c0" />
<rect x="345" y="625" width="1" height="32" fill="#c0c0c0" />
<rect x="353" y="622" width="1" height="35" fill="#c0c0c0" />
<rect x="361" y="620" width="1" height="37" fill="#c0c0c0" />
<rect x="369" y="616" width="1" height="41" fill="#c0c0c0" />
<rect x="377" y="613" width="1" height="44" fill="#c0c0c0" />
<rect x="385" y="612" width="1" height="45" fill="#c0c0c0" />
<rect x="393" y="610" width="1" height="47" fill="#c0c0c0" />
<rect x="401" y="610" width="1" height="47" fill="#c0c0c0" />
<rect x="409" y="607" width="1" height="50" fill="#c0c0c0" />
<rect x="417" y="606" width="1" height="51" fill="#c0c0c0" />
<rect x="425" y="606" width="1" height="51" fill="#c0c0c0" />
<rect x="433" y="606" width="1" height="51" fill="#c0c0c0" />
<rect x="441" y="608" width="1" height="49" fill="#c0c0c0" />
<rect x="449" y="612" width="1" height="45" fill="#c0c0c0" />
<rect x="457" y="618" width="1" height="39" fill="#c0c0c0" />
<rect x="465" y="622" width="1" height="35" fill="#c0c0c0" />
<rect x="473" y="627" width="1" height="30" fill="#c0c0c0" />
<rect x="481" y="630" width="1" height="27" fill="#c0c0c0" />
<rect x="489" y="639" width="1" height="18" fill="#c0c0c0" />
<rect x="497" y="647" width="1" height="10" fill="#c0c0c0" />
<rect x="505" y="647" width="1" height="10" fill="#c0c0c0" />
<rect x="513" y="650" width="1" height="7" fill="#c0c0c0" />
<rect x="521" y="651" width="1" height="6" fill="#c0c0c0" />
<rect x="529" y="654" width="1" height="3" fill="#c0c0c0" />
<rect x="537" y="655" width="1" height="2" fill="#c0c0c0" />
<rect x="545" y="656" width="1" height="1" fill="#c0c0c0" />
<rect x="553" y="657" width="1" height="1" fill="#c0c0c0" />
<rect x="561" y="655" width="1" height="2" fill="#c0c0c0" />
<rect x="569" y="655" width="1" height="2" fill="#c0c0c0" />
<rect x="577" y="656" width="1" height="1" fill="#c0c0c0" />
<rect x="585" y="656" width="1" height="1" fill="#c0c0c0" />
<rect x="593" y="656" width="1" height="1" fill="#c0c0c0" />
<rect x="601" y="656" width="1" height="1" fill="#c0c0c0" />
<rect x="609" y="654" width="1" height="3" fill="#c0c0c0" />
<rect x="617" y="649" width="1" height="8" fill="#c0c0c0" />
<rect x="625" y="644" width="1" height="13" fill="#c0c0c0" />
<rect x="633" y="641" width="1" height="16" fill="#c0c0c0" />
<rect x="641" y="637" width="1" height="20" fill="#c0c0c0" />
<rect x="649" y="632" width="1" height="25" fill="#c0c0c0" />
<rect x="657" y="630" width="1" height="27" fill="#c0c0c0" />
<rect x="665" y="627" width="1" height="30" fill="#c0c0c0" />
<rect x="673" y="626" width="1" height="31" fill="#c0c0c0" />
<rect x="681" y="624" width="1" height="33" fill="#c0c0c0" />
<rect x="689" y="624" width="1" height="33" fill="#c0c0c0" />
<rect x="697" y="626" width="1" height="31" fill="#c0c0c0" />
<rect x="705" y="634" width="1" height="23" fill="#c0c0c0" />
<rect x="713" y="642" width="1" height="15" fill="#c0c0c0" />
<rect x="721" y="649" width="1" height="8" fill="#c0c0c0" />
<rect x="729" y="655" width="1" height="2" fill="#c0c0c0" />
<rect x="737" y="657" width="1" height="1" fill="#c0c0c0" />
<rect x="745" y="657" width="1" height="1" fill="#c0c0c0" />
<rect x="753" y="657" width="1" height="10" fill="#c0c0c0" />
<rect x="761" y="657" width="1" height="17" fill="#c0c0c0" />
<rect x="769" y="657" width="1" height="21" fill="#c0c0c0" />
<rect x="777" y="657" width="1" height="24" fill="#c0c0c0" />
<rect x="785" y="657" width="1" height="26" fill="#c0c0c0" />
<rect x="793" y="657" width="1" height="32" fill="#c0c0c0" />
<rect x="801" y="657" width="1" height="37" fill="#c0c0c0" />
<rect x="809" y="657" width="1" height="41" fill="#c0c0c0" />
<rect x="817" y="657" width="1" height="41" fill="#c0c0c0" />
<rect x="825" y="657" width="1" height="41" fill="#c0c0c0" />
<rect x="833" y="657" width="1" height="42" fill="#c0c0c0" />
<rect x="841" y="657" width="1" height="41" fill="#c0c0c0" />
<rect x="849" y="657" width="1" height="28" fill="#c0c0c0" />
<rect x="857" y="657" width="1" height="23" fill="#c0c0c0" />
<rect x="865" y="657" width="1" height="20" fill="#c0c0c0" />
<rect x="873" y="657" width="1" height="17" fill="#c0c0c0" />
<rect x="881" y="657" width="1" height="13" fill="#c0c0c0" />
<rect x="889" y="657" width="1" height="11" fill="#c0c0c0" />
<rect x="897" y="657" width="1" height="12" fill="#c0c0c0" />
<rect x="905" y="657" width="1" height="10" fill="#c0c0c0" />
<rect x="913" y="657" width="1" height="9" fill="#c0c0c0" />
<rect x="921" y="657" width="1" height="9" fill="#c0c0c0" />
<rect x="929" y="657" width="1" height="8" fill="#c0c0c0" />
<rect x="937" y="657" width="1" height="7" fill="#c0c0c0" />
<rect x="945" y="657" width="1" height="13" fill="#c0c0c0" />
<rect x="953" y="657" width="1" height="18" fill="#c0c0c0" />
<rect x="961" y="657" width="1" height="22" fill="#c0c0c0" />
<rect x="969" y="657" width="1" height="23" fill="#c0c0c0" />
<rect x="977" y="657" width="1" height="24" fill="#c0c0c0" />
<rect x="985" y="657" width="1" height="25" fill="#c0c0c0" />
<rect x="993" y="657" width="1" height="29" fill="#c0c0c0" />
<rect x="1001" y="657" width="1" height="31" fill="#c0c0c0" />
<rect x="1009" y="657" width="1" height="34" fill="#c0c0c0" />
<rect x="1017" y="657" width="1" height="37" fill="#c0c0c0" />
<rect x="1025" y="657" width="1" height="37" fill="#c0c0c0" />
<rect x="1033" y="657" width="1" height="34" fill="#c0c0c0" />
<rect x="1041" y="657" width="1" height="35" fill="#c0c0c0" />
<rect x="1049" y="657" width="1" height="39" fill="#c0c0c0" />
<rect x="1057" y="657" width="1" height="43" fill="#c0c0c0" />
<rect x="1065" y="657" width="1" height="48" fill="#c0c0c0" />
<rect x="1073" y="657" width="1" height="53" fill="#c0c0c0" />
<rect x="1081" y="657" width="1" height="55" fill="#c0c0c0" />
<rect x="1089" y="657" width="1" height="51" fill="#c0c0c0" />
<rect x="1097" y="657" width="1" height="49" fill="#c0c0c0" />
<rect x="1105" y="657" width="1" height="48" fill="#c0c0c0" />
<rect x="1113" y="657" width="1" height="47" fill="#c0c0c0" />
<rect x="1121" y="657" width="1" height="45" fill="#c0c0c0" />
<rect x="1129" y="657" width="1" height="44" fill="#c0c0c0" />
<rect x="1137" y="657" width="1" height="43" fill="#c0c0c0" />
<rect x="1145" y="657" width="1" height="44" fill="#c0c0c0" />
<rect x="1153" y="657" width="1" height="48" fill="#c0c0c0" />
<rect x="1161" y="657" width="1" height="53" fill="#c0c0c0" />
<rect x="1169" y="657" width="1" height="67" fill="#c0c0c0" />
<rect x="1177" y="657" width="1" height="77" fill="#c0c0c0" />
<rect x="1185" y="657" width="1" height="85" fill="#c0c0c0" />
<rect x="1193" y="657" width="1" height="87" fill="#c0c0c0" />
<rect x="1201" y="657" width="1" height="83" fill="#c0c0c0" />
<rect x="1209" y="657" width="1" height="75" fill="#c0c0c0" />
<rect x="1217" y="657" width="1" height="68" fill="#c0c0c0" />
<rect x="1225" y="657" width="1" height="64" fill="#c0c0c0" />
<rect x="1233" y="657" width="1" height="59" fill="#c0c0c0" />
<rect x="1241" y="657" width="1" height="45" fill="#c0c0c0" />
<rect x="1249" y="657" width="1" height="29" fill="#c0c0c0" />
<rect x="1257" y="657" width="1" height="15" fill="#c0c0c0" />
<rect x="1265" y="657" width="1" height="11" fill="#c0c0c0" />
<rect x="1273" y="657" width="1" height="10" fill="#c0c0c0" />
<rect x="1281" y="657" width="1" height="5" fill="#c0c0c0" />
<rect x="1289" y="657" width="1" height="1" fill="#c0c0c0" />
<rect x="1297" y="655" width="1" height="2" fill="#c0c0c0" />
<rect x="1305" y="654" width="1" height="3" fill="#c0c0c0" />
<rect x="1313" y="647" width="1" height="10" fill="#c0c0c0" />
<rect x="1321" y="644" width="1" height="13" fill="#c0c0c0" />
<rect x="1329" y="639" width="1" height="18" fill="#c0c0c0" />
<rect x="1337" y="642" width="1" height="15" fill="#c0c0c0" />
<rect x="1345" y="646" width="1" height="11" fill="#c0c0c0" />
<rect x="1353" y="651" width="1" height="6" fill="#c0c0c0" />
<rect x="1361" y="656" width="1" height="1" fill="#c0c0c0" />
<rect x="1369" y="657" width="1" height="1" fill="#c0c0c0" />
<rect x="1377" y="657" width="1" height="4" fill="#c0c0c0" />
<rect x="1385" y="657" width="1" height="3" fill="#c0c0c0" />
<rect x="1393" y="657" width="1" height="1" fill="#c0c0c0" />
<rect x="1401" y="655" width="1" height="2" fill="#c0c0c0" />
<rect x="1409" y="650" width="1" height="7" fill="#c0c0c0" />
<path fill="#ff0000" d="M1091 702h3v1h-3zM551 650h3v1h-3zM1379 650h3v1h-3zM1385 650h3v1h-3zM210 685h2v1h-2zM215 685h3v1h-3zM816 685h2v1h-2zM882 685h2v1h-2zM1019 685h3v1h-3zM804 678h2v1h-2zM899 678h3v1h-3zM996 678h2v1h-2zM203 687h3v1h-3zM233 683h3v1h-3zM239 683h2v1h-2zM887 683h2v1h-2zM1013 683h2v1h-2zM431 609h3v1h-3zM437 609h3v1h-3zM462 609h2v1h-2zM1037 689h3v1h-3zM642 649h2v1h-2zM1343 649h3v1h-3zM1367 649h3v1h-3zM1373 649h3v1h-3zM696 629h2v1h-2zM719 629h2v1h-2zM522 636h2v1h-2zM354 634h2v1h-2zM677 634h2v1h-2zM71 724h3v1h-3zM299 663h3v1h-3zM779 663h2v1h-2zM137 716h2v1h-2zM1229 731h3v1h-3zM479 614h3v1h-3zM497 622h2v1h-2zM569 653h3v1h-3zM575 653h3v1h-3zM623 653h3v1h-3zM1332 653h2v1h-2zM977 672h3v1h-3zM1302 672h2v1h-2zM35 713h2v1h-2zM162 700h2v1h-2zM179 693h3v1h-3zM845 693h3v1h-3zM851 693h3v1h-3zM1056 693h2v1h-2zM390 619h2v1h-2zM491 619h2v1h-2zM419 612h3v1h-3zM474 612h2v1h-2zM306 660h2v1h-2zM774 660h2v1h-2zM545 647h2v1h-2zM756 647h2v1h-2zM839 692h3v1h-3zM857 692h3v1h-3zM989 676h3v1h-3zM558 652h2v1h-2zM563 652h3v1h-3zM629 652h3v1h-3zM1403 652h3v1h-3zM191 690h3v1h-3zM827 690h3v1h-3zM869 690h3v1h-3zM1043 690h3v1h-3zM359 632h3v1h-3zM683 632h3v1h-3zM726 632h2v1h-2zM5 705h3v1h-3zM1103 705h3v1h-3zM1145 705h3v1h-3zM1151 705h3v1h-3zM1163 705h3v1h-3zM702 628h2v1h-2zM707 628h3v1h-3zM713 628h3v1h-3zM251 681h3v1h-3zM809 681h2v1h-2zM1007 681h2v1h-2zM287 668h3v1h-3zM786 668h2v1h-2zM935 668h3v1h-3zM941 668h3v1h-3zM947 668h3v1h-3zM1307 668h2v1h-2zM593 656h3v1h-3zM599 656h3v1h-3zM605 656h3v1h-3zM611 656h2v1h-2zM1326 656h2v1h-2zM1313 664h2v1h-2zM11 706h3v1h-3zM1109 706h3v1h-3zM1115 706h3v1h-3zM1121 706h3v1h-3zM1127 706h3v1h-3zM1133 706h3v1h-3zM1139 706h3v1h-3zM1169 706h2v1h-2zM78 726h2v1h-2zM83 726h3v1h-3zM89 726h3v1h-3zM95 726h3v1h-3zM101 726h2v1h-2zM540 645h2v1h-2zM654 645h2v1h-2zM65 722h2v1h-2zM125 722h2v1h-2zM395 618h3v1h-3zM257 680h2v1h-2zM894 680h2v1h-2zM647 648h2v1h-2zM1349 648h3v1h-3zM1355 648h3v1h-3zM1361 648h3v1h-3zM732 635h2v1h-2zM407 615h2v1h-2zM659 643h2v1h-2zM749 643h2v1h-2zM0 704h2v1h-2zM156 704h2v1h-2zM1098 704h2v1h-2zM1157 704h3v1h-3zM198 688h2v1h-2zM822 688h2v1h-2zM875 688h2v1h-2zM1032 688h2v1h-2zM47 717h2v1h-2zM635 651h3v1h-3zM1337 651h2v1h-2zM1391 651h3v1h-3zM1397 651h3v1h-3zM221 684h3v1h-3zM227 684h3v1h-3zM1223 730h2v1h-2zM1235 730h3v1h-3zM317 655h2v1h-2zM588 655h2v1h-2zM449 607h3v1h-3zM516 633h2v1h-2zM107 727h2v1h-2zM342 639h2v1h-2zM528 639h2v1h-2zM504 626h2v1h-2zM929 669h3v1h-3zM953 669h3v1h-3zM959 669h3v1h-3zM791 671h2v1h-2zM917 671h3v1h-3zM971 671h3v1h-3zM402 616h2v1h-2zM485 616h2v1h-2zM383 621h3v1h-3zM425 610h3v1h-3zM467 610h3v1h-3zM24 710h2v1h-2zM168 697h2v1h-2zM1001 679h3v1h-3zM1079 699h3v1h-3zM174 694h2v1h-2zM1061 694h3v1h-3zM581 654h3v1h-3zM618 654h2v1h-2zM294 665h2v1h-2zM413 613h3v1h-3zM665 640h2v1h-2zM743 640h2v1h-2zM1212 728h2v1h-2zM1175 709h2v1h-2zM60 721h2v1h-2zM1199 721h2v1h-2zM186 691h2v1h-2zM833 691h3v1h-3zM863 691h3v1h-3zM1049 691h3v1h-3zM336 642h2v1h-2zM534 642h2v1h-2zM378 623h2v1h-2zM1025 686h3v1h-3zM17 707h3v1h-3zM1067 696h3v1h-3zM1193 718h2v1h-2zM30 712h2v1h-2zM144 712h2v1h-2zM1181 712h2v1h-2zM689 631h3v1h-3zM53 719h3v1h-3zM131 719h2v1h-2zM443 608h3v1h-3zM455 608h3v1h-3zM263 677h2v1h-2zM282 670h2v1h-2zM923 670h3v1h-3zM965 670h3v1h-3zM245 682h2v1h-2zM906 675h2v1h-2zM347 637h2v1h-2zM671 637h2v1h-2zM737 637h2v1h-2zM275 673h2v1h-2zM911 673h3v1h-3zM1074 698h2v1h-2zM371 627h2v1h-2zM270 674h2v1h-2zM797 674h2v1h-2zM983 674h3v1h-3zM1217 729h2v1h-2zM41 715h2v1h-2zM1187 715h2v1h-2zM120 723h2v1h-2zM1086 701h2v1h-2zM113 725h3v1h-3zM1206 725h2v1h-2zM365 630h2v1h-2zM311 658h2v1h-2zM59 720h1v1h-1zM325 650h1v1h-1zM641 650h1v1h-1zM761 650h1v1h-1zM1339 650h1v1h-1zM1295 678h1v1h-1zM821 687h1v1h-1zM877 687h1v1h-1zM1031 687h1v1h-1zM1284 687h1v1h-1zM1289 683h1v1h-1zM503 625h1v1h-1zM197 689h1v1h-1zM401 617h1v1h-1zM487 617h1v1h-1zM367 629h1v1h-1zM510 629h1v1h-1zM701 629h1v1h-1zM349 636h1v1h-1zM673 636h1v1h-1zM731 634h1v1h-1zM119 724h1v1h-1zM1205 724h1v1h-1zM1248 724h1v1h-1zM1315 663h1v1h-1zM43 716h1v1h-1zM1189 716h1v1h-1zM1225 731h1v1h-1zM409 614h1v1h-1zM277 672h1v1h-1zM793 672h1v1h-1zM143 713h1v1h-1zM1183 713h1v1h-1zM1259 713h1v1h-1zM1085 700h1v1h-1zM1272 700h1v1h-1zM1278 693h1v1h-1zM1320 660h1v1h-1zM329 647h1v1h-1zM649 647h1v1h-1zM185 692h1v1h-1zM1055 692h1v1h-1zM1279 692h1v1h-1zM265 676h1v1h-1zM905 676h1v1h-1zM1297 676h1v1h-1zM377 624h1v1h-1zM323 652h1v1h-1zM763 652h1v1h-1zM1409 652h1v1h-1zM1097 703h1v1h-1zM515 632h1v1h-1zM155 705h1v1h-1zM1267 705h1v1h-1zM509 628h1v1h-1zM247 681h1v1h-1zM893 681h1v1h-1zM1291 681h1v1h-1zM768 656h1v1h-1zM781 664h1v1h-1zM1266 706h1v1h-1zM109 726h1v1h-1zM331 645h1v1h-1zM1201 722h1v1h-1zM547 648h1v1h-1zM353 635h1v1h-1zM521 635h1v1h-1zM335 643h1v1h-1zM173 695h1v1h-1zM1283 688h1v1h-1zM1255 717h1v1h-1zM324 651h1v1h-1zM557 651h1v1h-1zM762 651h1v1h-1zM815 684h1v1h-1zM1015 684h1v1h-1zM1219 730h1v1h-1zM613 655h1v1h-1zM617 655h1v1h-1zM767 655h1v1h-1zM679 633h1v1h-1zM103 727h1v1h-1zM1211 727h1v1h-1zM1243 727h1v1h-1zM667 639h1v1h-1zM373 626h1v1h-1zM330 646h1v1h-1zM653 646h1v1h-1zM755 646h1v1h-1zM281 671h1v1h-1zM149 710h1v1h-1zM1177 710h1v1h-1zM1073 697h1v1h-1zM259 679h1v1h-1zM1273 699h1v1h-1zM539 644h1v1h-1zM751 644h1v1h-1zM1277 694h1v1h-1zM319 654h1v1h-1zM587 654h1v1h-1zM1331 654h1v1h-1zM341 640h1v1h-1zM1242 728h1v1h-1zM23 709h1v1h-1zM150 709h1v1h-1zM527 638h1v1h-1zM739 638h1v1h-1zM127 721h1v1h-1zM661 642h1v1h-1zM499 623h1v1h-1zM209 686h1v1h-1zM881 686h1v1h-1zM1285 686h1v1h-1zM1171 707h1v1h-1zM1265 707h1v1h-1zM49 718h1v1h-1zM133 718h1v1h-1zM1254 718h1v1h-1zM1260 712h1v1h-1zM725 631h1v1h-1zM1195 719h1v1h-1zM1253 719h1v1h-1zM461 608h1v1h-1zM803 677h1v1h-1zM995 677h1v1h-1zM1296 677h1v1h-1zM241 682h1v1h-1zM811 682h1v1h-1zM889 682h1v1h-1zM1009 682h1v1h-1zM1290 682h1v1h-1zM269 675h1v1h-1zM799 675h1v1h-1zM1301 673h1v1h-1zM167 698h1v1h-1zM37 714h1v1h-1zM151 708h1v1h-1zM293 666h1v1h-1zM1241 729h1v1h-1zM139 715h1v1h-1zM67 723h1v1h-1zM1249 723h1v1h-1zM161 701h1v1h-1zM1271 701h1v1h-1zM29 711h1v1h-1zM1261 711h1v1h-1zM305 661h1v1h-1zM1319 661h1v1h-1zM389 620h1v1h-1zM493 620h1v1h-1zM77 725h1v1h-1zM1247 725h1v1h-1zM533 641h1v1h-1zM745 641h1v1h-1zM511 630h1v1h-1zM695 630h1v1h-1zM721 630h1v1h-1zM313 657h1v1h-1zM769 657h1v1h-1zM1325 657h1v1h-1zM785 667h1v1h-1zM1309 667h1v1h-1zM773 659h1v1h-1zM1321 659h1v1h-1zM473 611h1v1h-1z"/>
</g>
</g>
<text transform="translate(1656 606.3) scale(.935 1)" font-family="Liberation Sans, sans-serif" font-size="9.9" stroke-width="0.25" fill="#000" stroke="#000">314.66</text>
<text transform="translate(1656 660.3) scale(.935 1)" font-family="Liberation Sans, sans-serif" font-size="9.9" stroke-width="0.25" fill="#000" stroke="#000">0.00</text>
<text transform="translate(1656 748.3) scale(.935 1)" font-family="Liberation Sans, sans-serif" font-size="9.9" stroke-width="0.25" fill="#000" stroke="#000">-501.64</text>
<rect x="1653" y="657" width="2" height="1" fill="#000" shape-rendering="crispEdges"/>
<rect x="1653" y="598" width="2" height="1" fill="#000" shape-rendering="crispEdges"/>
<rect x="1653" y="751" width="1" height="1" fill="#000" shape-rendering="crispEdges"/>
<rect x="1653" y="756" width="1" height="1" fill="#000" shape-rendering="crispEdges"/>
<rect x="1653" y="927" width="1" height="1" fill="#000" shape-rendering="crispEdges"/>
<g clip-path="url(#c3)" shape-rendering="crispEdges">
<line x1="0" y1="790.5" x2="1652" y2="790.5" stroke="#c0c0c0" stroke-width="1" stroke-dasharray="3 3"/>
<line x1="0" y1="841.5" x2="1652" y2="841.5" stroke="#c0c0c0" stroke-width="1" stroke-dasharray="3 3"/>
<line x1="0" y1="902.5" x2="1652" y2="902.5" stroke="#c0c0c0" stroke-width="1" stroke-dasharray="3 3"/>
<path fill="#1e90ff" d="M265 833h9v1h-9zM291 833h2v1h-2zM303 833h2v1h-2zM842 840h2v1h-2zM854 840h2v1h-2zM877 840h3v1h-3zM883 840h4v1h-4zM1267 840h2v1h-2zM1275 840h2v1h-2zM100 862h2v1h-2zM946 862h2v1h-2zM984 862h2v1h-2zM1100 862h2v1h-2zM1108 862h2v1h-2zM104 864h2v1h-2zM768 864h18v1h-18zM819 864h4v1h-4zM949 864h2v1h-2zM1104 864h2v1h-2zM371 815h4v1h-4zM671 815h2v1h-2zM675 815h2v1h-2zM685 815h3v1h-3zM61 883h5v1h-5zM14 879h2v1h-2zM800 879h2v1h-2zM1069 879h3v1h-3zM1157 879h3v1h-3zM335 822h4v1h-4zM349 822h3v1h-3zM1251 822h4v1h-4zM83 860h2v1h-2zM95 860h3v1h-3zM181 860h2v1h-2zM496 860h2v1h-2zM733 860h5v1h-5zM980 860h2v1h-2zM1112 860h13v1h-13zM1131 860h4v1h-4zM355 820h4v1h-4zM617 820h4v1h-4zM629 820h5v1h-5zM81 861h2v1h-2zM98 861h2v1h-2zM982 861h2v1h-2zM1098 861h2v1h-2zM1110 861h2v1h-2zM1135 861h3v1h-3zM30 866h2v1h-2zM35 866h4v1h-4zM764 866h2v1h-2zM827 866h4v1h-4zM953 866h2v1h-2zM1003 866h2v1h-2zM1044 866h2v1h-2zM1143 866h2v1h-2zM85 859h3v1h-3zM91 859h4v1h-4zM493 859h3v1h-3zM719 859h14v1h-14zM978 859h2v1h-2zM1125 859h6v1h-6zM711 856h2v1h-2zM1209 856h2v1h-2zM1220 856h2v1h-2zM359 819h4v1h-4zM621 819h8v1h-8zM634 819h2v1h-2zM569 841h2v1h-2zM856 841h5v1h-5zM875 841h2v1h-2zM887 841h3v1h-3zM906 841h2v1h-2zM1269 841h3v1h-3zM102 863h2v1h-2zM177 863h2v1h-2zM817 863h2v1h-2zM1102 863h2v1h-2zM1106 863h2v1h-2zM1139 863h2v1h-2zM505 839h2v1h-2zM597 839h2v1h-2zM844 839h2v1h-2zM852 839h2v1h-2zM880 839h3v1h-3zM1265 839h2v1h-2zM1387 839h2v1h-2zM391 812h4v1h-4zM661 812h3v1h-3zM666 812h2v1h-2zM47 871h2v1h-2zM1054 871h2v1h-2zM278 830h2v1h-2zM283 830h4v1h-4zM1319 830h4v1h-4zM1401 830h4v1h-4zM88 858h3v1h-3zM491 858h2v1h-2zM715 858h4v1h-4zM969 858h9v1h-9zM1224 858h10v1h-10zM274 832h2v1h-2zM1397 832h2v1h-2zM387 813h4v1h-4zM395 813h4v1h-4zM655 813h2v1h-2zM659 813h2v1h-2zM680 813h3v1h-3zM415 809h6v1h-6zM427 809h4v1h-4zM125 847h8v1h-8zM158 847h2v1h-2zM212 847h2v1h-2zM918 847h2v1h-2zM922 847h2v1h-2zM1359 847h2v1h-2zM1370 847h2v1h-2zM794 876h2v1h-2zM1063 876h2v1h-2zM223 843h11v1h-11zM518 843h2v1h-2zM522 843h2v1h-2zM536 843h3v1h-3zM575 843h4v1h-4zM592 843h2v1h-2zM910 843h2v1h-2zM458 837h2v1h-2zM848 837h2v1h-2zM1279 837h2v1h-2zM1283 837h4v1h-4zM156 846h2v1h-2zM214 846h2v1h-2zM527 846h2v1h-2zM530 846h2v1h-2zM544 846h2v1h-2zM584 846h3v1h-3zM916 846h2v1h-2zM1361 846h9v1h-9zM709 855h2v1h-2zM1211 855h4v1h-4zM1218 855h2v1h-2zM219 844h4v1h-4zM253 844h2v1h-2zM516 844h2v1h-2zM534 844h2v1h-2zM539 844h2v1h-2zM579 844h2v1h-2zM589 844h3v1h-3zM912 844h2v1h-2zM927 844h2v1h-2zM1341 844h2v1h-2zM12 878h2v1h-2zM798 878h2v1h-2zM1067 878h2v1h-2zM1155 878h2v1h-2zM26 868h2v1h-2zM42 868h2v1h-2zM757 868h5v1h-5zM959 868h3v1h-3zM995 868h2v1h-2zM1048 868h2v1h-2zM121 848h4v1h-4zM133 848h5v1h-5zM160 848h10v1h-10zM210 848h2v1h-2zM248 848h2v1h-2zM920 848h2v1h-2zM935 848h2v1h-2zM1347 848h2v1h-2zM1372 848h2v1h-2zM45 870h2v1h-2zM1052 870h2v1h-2zM1007 869h2v1h-2zM1050 869h2v1h-2zM489 857h2v1h-2zM713 857h2v1h-2zM1093 857h2v1h-2zM1222 857h2v1h-2zM32 865h3v1h-3zM766 865h2v1h-2zM823 865h4v1h-4zM951 865h2v1h-2zM999 865h2v1h-2zM1042 865h2v1h-2zM73 854h2v1h-2zM1089 854h2v1h-2zM1215 854h3v1h-3zM117 845h2v1h-2zM154 845h2v1h-2zM216 845h3v1h-3zM514 845h2v1h-2zM525 845h2v1h-2zM532 845h2v1h-2zM541 845h3v1h-3zM581 845h3v1h-3zM587 845h2v1h-2zM914 845h2v1h-2zM925 845h2v1h-2zM931 845h2v1h-2zM1343 845h2v1h-2zM664 811h2v1h-2zM1328 827h2v1h-2zM301 834h2v1h-2zM464 834h3v1h-3zM603 834h2v1h-2zM1293 834h2v1h-2zM1394 834h2v1h-2zM243 850h2v1h-2zM1355 850h2v1h-2zM1376 850h2v1h-2zM1181 893h2v1h-2zM317 824h14v1h-14zM343 824h4v1h-4zM295 836h2v1h-2zM298 836h2v1h-2zM460 836h2v1h-2zM471 836h11v1h-11zM557 836h2v1h-2zM1281 836h2v1h-2zM1391 836h2v1h-2zM405 810h2v1h-2zM431 810h3v1h-3zM651 810h2v1h-2zM10 877h2v1h-2zM796 877h2v1h-2zM1065 877h2v1h-2zM1153 877h2v1h-2zM1011 872h2v1h-2zM1056 872h2v1h-2zM375 814h12v1h-12zM399 814h3v1h-3zM657 814h2v1h-2zM669 814h2v1h-2zM677 814h3v1h-3zM683 814h2v1h-2zM313 825h4v1h-4zM368 816h3v1h-3zM640 816h2v1h-2zM673 816h2v1h-2zM688 816h2v1h-2zM113 842h2v1h-2zM520 842h2v1h-2zM549 842h2v1h-2zM571 842h4v1h-4zM861 842h14v1h-14zM908 842h2v1h-2zM1272 842h2v1h-2zM1338 842h2v1h-2zM245 849h3v1h-3zM1374 849h2v1h-2zM411 808h4v1h-4zM421 808h6v1h-6zM276 831h2v1h-2zM287 831h3v1h-3zM607 831h2v1h-2zM1399 831h2v1h-2zM1405 831h5v1h-5zM309 828h2v1h-2zM1313 828h2v1h-2zM1325 828h3v1h-3zM1191 886h2v1h-2zM331 823h4v1h-4zM339 823h4v1h-4zM347 823h2v1h-2zM1249 823h2v1h-2zM28 867h2v1h-2zM39 867h3v1h-3zM753 867h4v1h-4zM762 867h2v1h-2zM831 867h3v1h-3zM955 867h4v1h-4zM1046 867h2v1h-2zM554 838h2v1h-2zM565 838h2v1h-2zM846 838h2v1h-2zM850 838h2v1h-2zM1287 838h3v1h-3zM1175 896h3v1h-3zM805 875h2v1h-2zM1015 875h2v1h-2zM1061 875h2v1h-2zM241 851h2v1h-2zM1351 851h2v1h-2zM706 853h2v1h-2zM462 835h2v1h-2zM467 835h4v1h-4zM559 835h2v1h-2zM1301 835h2v1h-2zM16 880h2v1h-2zM1072 880h10v1h-10zM1160 880h2v1h-2zM280 829h3v1h-3zM1315 829h4v1h-4zM1323 829h2v1h-2zM1058 873h2v1h-2zM1187 889h2v1h-2zM352 821h3v1h-3zM1255 821h3v1h-3zM57 884h4v1h-4zM365 817h3v1h-3zM638 817h2v1h-2zM363 818h2v1h-2zM636 818h2v1h-2zM409 807h2v1h-2zM1183 892h2v1h-2zM1171 895h4v1h-4zM1178 895h2v1h-2zM1169 894h2v1h-2zM454 833h1v2h-1zM605 833h1v1h-1zM699 831h1v4h-1zM1240 833h1v4h-1zM1262 832h1v2h-1zM1295 833h1v1h-1zM1299 833h1v1h-1zM1309 833h1v1h-1zM1332 832h1v2h-1zM1396 833h1v1h-1zM142 840h1v2h-1zM149 840h1v1h-1zM197 840h1v1h-1zM204 839h1v2h-1zM258 840h1v1h-1zM483 840h1v3h-1zM504 840h1v3h-1zM507 840h1v1h-1zM552 840h1v1h-1zM568 840h1v1h-1zM596 840h1v1h-1zM701 838h1v3h-1zM905 840h1v1h-1zM1238 840h1v3h-1zM1336 839h1v2h-1zM1386 840h1v1h-1zM-1 862h1v1h-1zM71 859h1v4h-1zM106 860h1v3h-1zM176 861h1v2h-1zM179 862h1v1h-1zM751 860h1v3h-1zM835 859h1v4h-1zM966 862h1v1h-1zM1024 862h1v2h-1zM1040 862h1v2h-1zM1086 862h1v3h-1zM1138 862h1v1h-1zM1203 862h1v1h-1zM1 864h1v1h-1zM70 863h1v4h-1zM177 864h1v1h-1zM752 863h1v3h-1zM816 864h1v1h-1zM834 863h1v3h-1zM964 864h1v1h-1zM987 864h1v1h-1zM1001 864h1v1h-1zM1023 864h1v2h-1zM1041 864h1v1h-1zM1141 864h1v1h-1zM1201 864h1v2h-1zM438 815h1v1h-1zM642 815h1v1h-1zM56 882h1v2h-1zM1163 883h1v2h-1zM1194 882h1v2h-1zM18 878h1v2h-1zM54 879h1v2h-1zM66 878h1v4h-1zM1081 879h1v1h-1zM1195 879h1v3h-1zM445 822h1v1h-1zM615 822h1v2h-1zM694 822h1v1h-1zM1257 822h1v1h-1zM-3 860h1v1h-1zM80 860h1v1h-1zM175 859h1v2h-1zM944 859h1v2h-1zM967 860h1v2h-1zM1026 860h1v1h-1zM1039 860h1v2h-1zM1087 859h1v3h-1zM1097 860h1v1h-1zM1205 860h1v1h-1zM443 820h1v1h-1zM692 820h1v1h-1zM-2 861h1v1h-1zM180 861h1v1h-1zM945 861h1v1h-1zM1025 861h1v1h-1zM1204 861h1v1h-1zM2 865h1v2h-1zM753 866h1v1h-1zM786 865h1v2h-1zM814 866h1v1h-1zM833 866h1v1h-1zM963 865h1v2h-1zM989 866h1v1h-1zM998 866h1v1h-1zM1022 866h1v2h-1zM1085 865h1v4h-1zM1200 866h1v2h-1zM-4 859h1v1h-1zM79 859h1v1h-1zM107 857h1v3h-1zM183 859h1v1h-1zM497 859h1v1h-1zM737 859h1v1h-1zM750 857h1v3h-1zM968 859h1v1h-1zM1027 858h1v2h-1zM1038 859h1v1h-1zM1096 859h1v1h-1zM1206 859h1v1h-1zM-7 856h1v1h-1zM72 855h1v4h-1zM76 856h1v1h-1zM108 854h1v3h-1zM173 855h1v2h-1zM186 855h1v2h-1zM489 856h1v1h-1zM498 856h1v3h-1zM739 855h1v2h-1zM749 853h1v4h-1zM836 856h1v3h-1zM942 856h1v2h-1zM1029 856h1v1h-1zM1036 856h1v1h-1zM1088 855h1v4h-1zM1092 856h1v1h-1zM1234 853h1v4h-1zM442 819h1v1h-1zM691 818h1v2h-1zM113 841h1v1h-1zM150 841h1v1h-1zM196 841h1v2h-1zM205 841h1v2h-1zM257 841h1v1h-1zM508 841h1v1h-1zM551 841h1v1h-1zM595 841h1v1h-1zM702 841h1v3h-1zM841 841h1v2h-1zM904 841h1v2h-1zM1274 841h1v1h-1zM1337 841h1v1h-1zM1385 841h1v1h-1zM0 863h1v1h-1zM105 863h1v1h-1zM948 863h1v1h-1zM965 863h1v1h-1zM986 863h1v1h-1zM1202 863h1v1h-1zM143 839h1v1h-1zM148 839h1v1h-1zM198 838h1v2h-1zM259 839h1v1h-1zM482 838h1v2h-1zM553 839h1v1h-1zM567 839h1v1h-1zM1239 837h1v3h-1zM1277 839h1v1h-1zM403 812h1v1h-1zM435 812h1v1h-1zM645 812h1v1h-1zM654 812h1v1h-1zM6 871h1v2h-1zM24 870h1v2h-1zM68 870h1v4h-1zM790 871h1v1h-1zM810 871h1v1h-1zM1010 871h1v1h-1zM1020 870h1v2h-1zM1084 869h1v3h-1zM1148 871h1v1h-1zM1198 871h1v3h-1zM307 830h1v1h-1zM452 830h1v2h-1zM609 830h1v1h-1zM698 828h1v3h-1zM1242 830h1v1h-1zM1261 829h1v3h-1zM1311 830h1v2h-1zM1331 830h1v2h-1zM-5 858h1v1h-1zM78 858h1v1h-1zM174 857h1v2h-1zM184 858h1v1h-1zM738 857h1v2h-1zM943 858h1v1h-1zM1037 857h1v2h-1zM1095 858h1v1h-1zM1207 858h1v1h-1zM290 832h1v1h-1zM305 832h1v1h-1zM453 832h1v1h-1zM606 832h1v1h-1zM1241 831h1v2h-1zM1296 832h1v1h-1zM1298 832h1v1h-1zM1310 832h1v1h-1zM402 813h1v1h-1zM436 813h1v1h-1zM644 813h1v1h-1zM668 813h1v1h-1zM407 809h1v1h-1zM648 809h1v1h-1zM650 809h1v1h-1zM111 846h1v3h-1zM120 847h1v1h-1zM138 846h1v2h-1zM192 847h1v2h-1zM208 847h1v2h-1zM237 847h1v1h-1zM250 847h1v1h-1zM485 846h1v2h-1zM502 845h1v3h-1zM529 847h1v1h-1zM703 844h1v4h-1zM743 846h1v2h-1zM747 847h1v3h-1zM839 846h1v4h-1zM893 847h1v1h-1zM901 846h1v2h-1zM934 847h1v1h-1zM1236 847h1v3h-1zM1346 847h1v1h-1zM1380 847h1v1h-1zM9 876h1v1h-1zM20 876h1v1h-1zM52 876h1v2h-1zM67 874h1v4h-1zM804 876h1v1h-1zM1017 876h1v1h-1zM1082 875h1v4h-1zM1152 876h1v1h-1zM1196 876h1v3h-1zM112 843h1v3h-1zM115 843h1v1h-1zM140 843h1v2h-1zM152 843h1v1h-1zM195 843h1v1h-1zM206 843h1v2h-1zM255 843h1v1h-1zM484 843h1v3h-1zM503 843h1v2h-1zM510 843h1v1h-1zM548 843h1v1h-1zM745 842h1v2h-1zM840 843h1v3h-1zM890 842h1v2h-1zM903 843h1v2h-1zM929 843h1v1h-1zM1237 843h1v4h-1zM1340 843h1v1h-1zM1383 843h1v1h-1zM144 837h1v2h-1zM146 837h1v1h-1zM199 837h1v1h-1zM203 837h1v2h-1zM261 837h1v1h-1zM297 837h1v1h-1zM456 836h1v2h-1zM481 837h1v1h-1zM556 837h1v1h-1zM564 837h1v1h-1zM600 837h1v1h-1zM700 835h1v3h-1zM1264 836h1v2h-1zM1290 837h1v1h-1zM1304 837h1v1h-1zM1306 837h1v1h-1zM1335 837h1v2h-1zM1390 837h1v1h-1zM119 846h1v1h-1zM193 846h1v1h-1zM207 845h1v2h-1zM236 846h1v1h-1zM251 846h1v1h-1zM513 846h1v1h-1zM746 844h1v3h-1zM892 845h1v2h-1zM924 846h1v1h-1zM933 846h1v1h-1zM1345 846h1v1h-1zM1381 845h1v2h-1zM75 855h1v1h-1zM488 854h1v2h-1zM499 854h1v2h-1zM837 853h1v3h-1zM941 855h1v1h-1zM1030 855h1v1h-1zM1035 854h1v2h-1zM1091 855h1v1h-1zM116 844h1v1h-1zM153 844h1v1h-1zM194 844h1v2h-1zM234 844h1v1h-1zM511 844h1v1h-1zM524 844h1v1h-1zM547 844h1v1h-1zM744 844h1v2h-1zM891 844h1v1h-1zM930 844h1v1h-1zM1382 844h1v1h-1zM53 878h1v1h-1zM802 878h1v1h-1zM4 868h1v2h-1zM69 867h1v3h-1zM788 868h1v1h-1zM813 867h1v2h-1zM991 868h1v1h-1zM1006 868h1v1h-1zM1021 868h1v2h-1zM1146 868h1v1h-1zM1199 868h1v3h-1zM238 848h1v1h-1zM486 848h1v3h-1zM501 848h1v3h-1zM704 848h1v3h-1zM742 848h1v2h-1zM894 848h1v2h-1zM900 848h1v1h-1zM1358 848h1v1h-1zM1379 848h1v1h-1zM5 870h1v1h-1zM789 869h1v2h-1zM811 870h1v1h-1zM993 870h1v1h-1zM1009 870h1v1h-1zM1147 869h1v2h-1zM25 869h1v1h-1zM44 869h1v1h-1zM812 869h1v1h-1zM992 869h1v1h-1zM994 869h1v1h-1zM-6 857h1v1h-1zM77 857h1v1h-1zM185 857h1v1h-1zM1028 857h1v1h-1zM1208 857h1v1h-1zM1233 857h1v1h-1zM815 865h1v1h-1zM988 865h1v1h-1zM1002 865h1v1h-1zM1142 865h1v1h-1zM172 853h1v2h-1zM187 854h1v1h-1zM708 854h1v1h-1zM740 853h1v2h-1zM940 853h1v2h-1zM1031 853h1v2h-1zM139 845h1v1h-1zM235 845h1v1h-1zM252 845h1v1h-1zM512 845h1v1h-1zM546 845h1v1h-1zM902 845h1v1h-1zM404 811h1v1h-1zM434 811h1v1h-1zM646 811h1v1h-1zM653 811h1v1h-1zM1167 890h1v2h-1zM1185 891h1v1h-1zM311 827h1v1h-1zM450 827h1v2h-1zM611 827h1v2h-1zM697 826h1v2h-1zM1245 827h1v1h-1zM1260 827h1v2h-1zM201 834h1v1h-1zM264 834h1v1h-1zM293 834h1v1h-1zM561 834h1v1h-1zM1263 834h1v2h-1zM1300 834h1v1h-1zM1308 834h1v1h-1zM1333 834h1v1h-1zM110 849h1v3h-1zM170 849h1v2h-1zM190 850h1v1h-1zM240 850h1v1h-1zM741 850h1v3h-1zM748 850h1v3h-1zM838 850h1v3h-1zM895 850h1v1h-1zM899 849h1v2h-1zM938 850h1v2h-1zM1235 850h1v3h-1zM1350 850h1v1h-1zM1168 892h1v2h-1zM447 824h1v1h-1zM614 824h1v1h-1zM695 823h1v2h-1zM1248 824h1v1h-1zM1258 823h1v2h-1zM145 836h1v1h-1zM200 835h1v2h-1zM202 835h1v2h-1zM262 836h1v1h-1zM563 836h1v1h-1zM601 836h1v1h-1zM1291 836h1v1h-1zM1303 836h1v1h-1zM1307 835h1v2h-1zM1334 835h1v2h-1zM647 810h1v1h-1zM19 877h1v1h-1zM803 877h1v1h-1zM23 872h1v1h-1zM49 872h1v1h-1zM791 872h1v1h-1zM809 872h1v1h-1zM1019 872h1v2h-1zM1083 872h1v3h-1zM1149 872h1v1h-1zM437 814h1v1h-1zM643 814h1v1h-1zM448 825h1v1h-1zM613 825h1v1h-1zM696 825h1v1h-1zM1247 825h1v1h-1zM1259 825h1v2h-1zM439 816h1v1h-1zM141 842h1v1h-1zM151 842h1v1h-1zM256 842h1v1h-1zM509 842h1v1h-1zM594 842h1v1h-1zM1384 842h1v1h-1zM191 849h1v1h-1zM209 849h1v1h-1zM239 849h1v1h-1zM937 849h1v1h-1zM1349 849h1v1h-1zM1357 849h1v1h-1zM1378 849h1v1h-1zM408 808h1v1h-1zM649 808h1v1h-1zM306 831h1v1h-1zM1297 831h1v1h-1zM1244 828h1v1h-1zM1330 828h1v2h-1zM1164 885h1v2h-1zM446 823h1v1h-1zM3 867h1v1h-1zM787 867h1v1h-1zM962 867h1v1h-1zM990 867h1v1h-1zM997 867h1v1h-1zM1005 867h1v1h-1zM1145 867h1v1h-1zM147 838h1v1h-1zM260 838h1v1h-1zM457 838h1v1h-1zM505 838h1v1h-1zM599 838h1v1h-1zM1265 838h1v1h-1zM1278 838h1v1h-1zM1305 838h1v1h-1zM1389 838h1v1h-1zM8 874h1v2h-1zM21 874h1v2h-1zM51 875h1v1h-1zM793 875h1v1h-1zM1018 874h1v2h-1zM1151 874h1v2h-1zM1197 874h1v2h-1zM171 851h1v2h-1zM189 851h1v2h-1zM487 851h1v3h-1zM500 851h1v3h-1zM705 851h1v2h-1zM896 851h1v2h-1zM898 851h1v2h-1zM1033 851h1v1h-1zM1354 851h1v1h-1zM109 852h1v2h-1zM939 852h1v1h-1zM1032 852h1v1h-1zM1034 852h1v2h-1zM1353 852h1v1h-1zM73 853h1v1h-1zM188 853h1v1h-1zM897 853h1v1h-1zM1089 853h1v1h-1zM50 873h1v2h-1zM792 873h1v2h-1zM807 874h1v1h-1zM1014 874h1v1h-1zM1060 874h1v1h-1zM263 835h1v1h-1zM294 835h1v1h-1zM300 835h1v1h-1zM455 835h1v1h-1zM562 835h1v1h-1zM602 835h1v1h-1zM1292 835h1v1h-1zM1393 835h1v1h-1zM308 829h1v1h-1zM451 829h1v1h-1zM610 829h1v1h-1zM1243 829h1v1h-1zM1312 829h1v1h-1zM7 873h1v1h-1zM22 873h1v1h-1zM808 873h1v1h-1zM1013 873h1v1h-1zM1150 873h1v1h-1zM1166 888h1v2h-1zM1165 887h1v1h-1zM1190 887h1v1h-1zM55 881h1v1h-1zM1162 881h1v2h-1zM444 821h1v1h-1zM616 821h1v1h-1zM693 821h1v1h-1zM1193 884h1v2h-1zM440 817h1v1h-1zM690 817h1v1h-1zM441 818h1v1h-1zM312 826h1v1h-1zM449 826h1v1h-1zM612 826h1v1h-1zM1246 826h1v1h-1zM65 882h1v1h-1zM1189 888h1v1h-1zM1180 894h1v1h-1zM1186 890h1v1h-1z"/>
</g>
<text transform="translate(1656 764.3) scale(.935 1)" font-family="Liberation Sans, sans-serif" font-size="9.9" stroke-width="0.25" fill="#000" stroke="#000">100</text>
<text transform="translate(1656 793.3) scale(.935 1)" font-family="Liberation Sans, sans-serif" font-size="9.9" stroke-width="0.25" fill="#000" stroke="#000">80</text>
<text transform="translate(1656 844.3) scale(.935 1)" font-family="Liberation Sans, sans-serif" font-size="9.9" stroke-width="0.25" fill="#000" stroke="#000">50</text>
<text transform="translate(1656 905.3) scale(.935 1)" font-family="Liberation Sans, sans-serif" font-size="9.9" stroke-width="0.25" fill="#000" stroke="#000">15</text>
<text transform="translate(1656 924.3) scale(.935 1)" font-family="Liberation Sans, sans-serif" font-size="9.9" stroke-width="0.25" fill="#000" stroke="#000">0</text>
<rect x="-7" y="929" width="1" height="4" fill="#000" shape-rendering="crispEdges"/>
<text transform="translate(-8 941) scale(.935 1)" font-family="Liberation Sans, sans-serif" font-size="9.9" stroke-width="0.25" fill="#000" stroke="#000">21 Jan 2022</text>
<rect x="57" y="929" width="1" height="4" fill="#000" shape-rendering="crispEdges"/>
<text transform="translate(56 941) scale(.935 1)" font-family="Liberation Sans, sans-serif" font-size="9.9" stroke-width="0.25" fill="#000" stroke="#000">24 Jan 12:00</text>
<rect x="121" y="929" width="1" height="4" fill="#000" shape-rendering="crispEdges"/>
<text transform="translate(120 941) scale(.935 1)" font-family="Liberation Sans, sans-serif" font-size="9.9" stroke-width="0.25" fill="#000" stroke="#000">25 Jan 20:00</text>
<rect x="185" y="929" width="1" height="4" fill="#000" shape-rendering="crispEdges"/>
<text transform="translate(184 941) scale(.935 1)" font-family="Liberation Sans, sans-serif" font-size="9.9" stroke-width="0.25" fill="#000" stroke="#000">27 Jan 04:00</text>
<rect x="249" y="929" width="1" height="4" fill="#000" shape-rendering="crispEdges"/>
<text transform="translate(248 941) scale(.935 1)" font-family="Liberation Sans, sans-serif" font-size="9.9" stroke-width="0.25" fill="#000" stroke="#000">28 Jan 12:00</text>
<rect x="313" y="929" width="1" height="4" fill="#000" shape-rendering="crispEdges"/>
<text transform="translate(312 941) scale(.935 1)" font-family="Liberation Sans, sans-serif" font-size="9.9" stroke-width="0.25" fill="#000" stroke="#000">31 Jan 16:00</text>
<rect x="377" y="929" width="1" height="4" fill="#000" shape-rendering="crispEdges"/>
<text transform="translate(376 941) scale(.935 1)" font-family="Liberation Sans, sans-serif" font-size="9.9" stroke-width="0.25" fill="#000" stroke="#000">2 Feb 00:00</text>
<rect x="441" y="929" width="1" height="4" fill="#000" shape-rendering="crispEdges"/>
<text transform="translate(440 941) scale(.935 1)" font-family="Liberation Sans, sans-serif" font-size="9.9" stroke-width="0.25" fill="#000" stroke="#000">3 Feb 08:00</text>
<rect x="505" y="929" width="1" height="4" fill="#000" shape-rendering="crispEdges"/>
<text transform="translate(504 941) scale(.935 1)" font-family="Liberation Sans, sans-serif" font-size="9.9" stroke-width="0.25" fill="#000" stroke="#000">4 Feb 16:00</text>
<rect x="569" y="929" width="1" height="4" fill="#000" shape-rendering="crispEdges"/>
<text transform="translate(568 941) scale(.935 1)" font-family="Liberation Sans, sans-serif" font-size="9.9" stroke-width="0.25" fill="#000" stroke="#000">7 Feb 20:00</text>
<rect x="633" y="929" width="1" height="4" fill="#000" shape-rendering="crispEdges"/>
<text transform="translate(632 941) scale(.935 1)" font-family="Liberation Sans, sans-serif" font-size="9.9" stroke-width="0.25" fill="#000" stroke="#000">9 Feb 04:00</text>
<rect x="697" y="929" width="1" height="4" fill="#000" shape-rendering="crispEdges"/>
<text transform="translate(696 941) scale(.935 1)" font-family="Liberation Sans, sans-serif" font-size="9.9" stroke-width="0.25" fill="#000" stroke="#000">10 Feb 12:00</text>
<rect x="761" y="929" width="1" height="4" fill="#000" shape-rendering="crispEdges"/>
<text transform="translate(760 941) scale(.935 1)" font-family="Liberation Sans, sans-serif" font-size="9.9" stroke-width="0.25" fill="#000" stroke="#000">11 Feb 20:00</text>
<rect x="825" y="929" width="1" height="4" fill="#000" shape-rendering="crispEdges"/>
<text transform="translate(824 941) scale(.935 1)" font-family="Liberation Sans, sans-serif" font-size="9.9" stroke-width="0.25" fill="#000" stroke="#000">15 Feb 00:00</text>
<rect x="889" y="929" width="1" height="4" fill="#000" shape-rendering="crispEdges"/>
<text transform="translate(888 941) scale(.935 1)" font-family="Liberation Sans, sans-serif" font-size="9.9" stroke-width="0.25" fill="#000" stroke="#000">16 Feb 08:00</text>
<rect x="953" y="929" width="1" height="4" fill="#000" shape-rendering="crispEdges"/>
<text transform="translate(952 941) scale(.935 1)" font-family="Liberation Sans, sans-serif" font-size="9.9" stroke-width="0.25" fill="#000" stroke="#000">17 Feb 16:00</text>
<rect x="1017" y="929" width="1" height="4" fill="#000" shape-rendering="crispEdges"/>
<text transform="translate(1016 941) scale(.935 1)" font-family="Liberation Sans, sans-serif" font-size="9.9" stroke-width="0.25" fill="#000" stroke="#000">20 Feb 23:00</text>
<rect x="1081" y="929" width="1" height="4" fill="#000" shape-rendering="crispEdges"/>
<text transform="translate(1080 941) scale(.935 1)" font-family="Liberation Sans, sans-serif" font-size="9.9" stroke-width="0.25" fill="#000" stroke="#000">22 Feb 04:00</text>
<rect x="1145" y="929" width="1" height="4" fill="#000" shape-rendering="crispEdges"/>
<text transform="translate(1144 941) scale(.935 1)" font-family="Liberation Sans, sans-serif" font-size="9.9" stroke-width="0.25" fill="#000" stroke="#000">23 Feb 12:00</text>
<rect x="1209" y="929" width="1" height="4" fill="#000" shape-rendering="crispEdges"/>
<text transform="translate(1208 941) scale(.935 1)" font-family="Liberation Sans, sans-serif" font-size="9.9" stroke-width="0.25" fill="#000" stroke="#000">24 Feb 20:00</text>
<rect x="1273" y="929" width="1" height="4" fill="#000" shape-rendering="crispEdges"/>
<text transform="translate(1272 941) scale(.935 1)" font-family="Liberation Sans, sans-serif" font-size="9.9" stroke-width="0.25" fill="#000" stroke="#000">28 Feb 00:00</text>
<rect x="1337" y="929" width="1" height="4" fill="#000" shape-rendering="crispEdges"/>
<text transform="translate(1336 941) scale(.935 1)" font-family="Liberation Sans, sans-serif" font-size="9.9" stroke-width="0.25" fill="#000" stroke="#000">1 Mar 08:00</text>
<rect x="1401" y="929" width="1" height="4" fill="#000" shape-rendering="crispEdges"/>
<text transform="translate(1400 941) scale(.935 1)" font-family="Liberation Sans, sans-serif" font-size="9.9" stroke-width="0.25" fill="#000" stroke="#000">2 Mar 16:00</text>
<line x1="1356.0" y1="444.0" x2="1411.1" y2="322.1" stroke="#ff0000" stroke-width="4.2"/><polygon points="1415.2,313.0 1414.9,327.2 1410.9,322.6 1404.7,322.5" fill="#ff0000"/>
<line x1="1345.0" y1="651.3" x2="1408.0" y2="653.5" stroke="#ff0000" stroke-width="3"/><polygon points="1417.5,653.8 1404.8,658.4 1407.5,653.5 1405.2,648.4" fill="#ff0000"/>
<line x1="1349.5" y1="847.0" x2="1411.7" y2="835.4" stroke="#ff0000" stroke-width="3"/><polygon points="1421.5,833.6 1409.6,840.9 1411.2,835.5 1407.8,831.1" fill="#ff0000"/>
<rect x="1258.5" y="293.5" width="61" height="18" fill="#fff" stroke="#ff0000" stroke-width="1" shape-rendering="crispEdges"/>
<text x="1260.5" y="308.6" font-family="Liberation Sans, sans-serif" font-size="15.9" fill="#ff0000">34062.7</text>
<rect x="1320" y="302" width="10" height="1" fill="#ff0000" shape-rendering="crispEdges"/>
<rect x="1164.5" y="345.5" width="73" height="24" fill="#fff" stroke="#ff0000" stroke-width="1" shape-rendering="crispEdges"/>
<text x="1164.2" y="364.6" font-family="Liberation Sans, sans-serif" font-size="20.4" fill="#ff0000">33688.7</text>
<rect x="1154" y="357" width="10" height="1" fill="#ff0000" shape-rendering="crispEdges"/>
<rect x="1160" y="355" width="5" height="5" fill="#ff0000" shape-rendering="crispEdges"/>
<rect x="1161" y="356" width="3" height="3" fill="#fff" shape-rendering="crispEdges"/>
<rect x="1282.5" y="440.5" width="61" height="18" fill="#fff" stroke="#ff0000" stroke-width="1" shape-rendering="crispEdges"/>
<text x="1284.5" y="455.6" font-family="Liberation Sans, sans-serif" font-size="15.9" fill="#ff0000">33063.1</text>
<rect x="1344" y="449" width="10" height="1" fill="#ff0000" shape-rendering="crispEdges"/>
<rect x="1106.5" y="570.5" width="62" height="18" fill="#fff" stroke="#ff0000" stroke-width="1" shape-rendering="crispEdges"/>
<text x="1108.5" y="585.6" font-family="Liberation Sans, sans-serif" font-size="15.9" fill="#ff0000">32172.7</text>
<rect x="1169" y="579" width="9" height="1" fill="#ff0000" shape-rendering="crispEdges"/>
<text transform="translate(-3 609) scale(.935 1)" font-family="Liberation Sans, sans-serif" font-size="9.9" stroke-width="0.25" fill="#000" stroke="#000">MACD(12,26,9) 47.32 14.79</text>
<text transform="translate(-3 767) scale(.935 1)" font-family="Liberation Sans, sans-serif" font-size="9.9" stroke-width="0.25" fill="#000" stroke="#000">RSI(14) 55.7669</text>
<text transform="translate(8.3 39) scale(.935 1)" font-family="Liberation Sans, sans-serif" font-size="9.9" stroke-width="0.25" fill="#000" stroke="#000">DJ30-,H4&#160;&#160;33840.0 33946.0 33790.0 33798.0</text>
<polygon points="0,38 0,34.5 3,38" fill="#000"/>
</svg>
<div id="tb"><svg class="ic" style="left:0px;top:0px" width="7" height="22" viewBox="0 0 7 22"><circle cx="-3.5" cy="7" r="5" fill="#cfe6fa" stroke="#6a8fb8" stroke-width="1.3"/><line x1="1" y1="12" x2="5" y2="18" stroke="#d9a520" stroke-width="2.6" stroke-linecap="round"/></svg><i class="sep" style="left:13px;height:21px"></i><svg class="ic" style="left:21px;top:2px" width="20" height="20" viewBox="0 0 20 20"><path d="M2.5 1.5h8l3 3v10.5h-11z" fill="#fff" stroke="#808080"/><path d="M10.5 1.5v3h3" fill="none" stroke="#808080"/><path d="M4.5 5.5h3.5M4.5 8h6M4.5 10.5h3" stroke="#a0a0a0" stroke-width="1"/><path d="M12 7.4v11.4M6.3 13.1h11.4" stroke="#168a16" stroke-width="4.6"/><path d="M12 8.6v9M7.5 13.1h9" stroke="#3cdc3c" stroke-width="2.2"/></svg><span class="tt" style="left:42px;letter-spacing:0.62px">New Order</span><svg class="ic" style="left:118px;top:3px" width="18" height="17" viewBox="0 0 18 17"><path d="M6.5 1 L17 8.5 L11 15.5 L1 9.5 Z" fill="#e9b92c" stroke="#a8720f" stroke-width="1"/><path d="M7 2.5 L15.5 8.5 L10.5 13.5 L3 9 Z" fill="#f8d858"/><path d="M1.5 10.5 L10.8 16.3 L16.5 10" fill="none" stroke="#b07a18" stroke-width="1.4"/></svg><svg class="ic" style="left:146px;top:2px" width="18" height="18" viewBox="0 0 18 18"><path d="M3.5 1.5h9l1.5 1.5v9h-10.5z" fill="#2f8ff0" stroke="#1b6fd0"/><path d="M6 2v8" stroke="#bfe0ff" stroke-width="1.2"/><rect x="7.5" y="5" width="5" height="2" fill="#d8ecff"/><path d="M4 16.5h10.5a2.6 2.6 0 0 0 0-5.4a3.4 3.4 0 0 0-6.2-1.3a2.2 2.2 0 0 0-3.3 1.6a2.6 2.6 0 0 0-1 5.1z" fill="#f4f8fe" stroke="#3c6eb8" stroke-width="1.1"/></svg><svg class="ic" style="left:174px;top:2px" width="18" height="18" viewBox="0 0 18 18"><circle cx="9" cy="9" r="7.3" fill="#eef4f4" stroke="#9fb8d8" stroke-width="1.2"/><path d="M9 9 L9 16.5 A7.5 7.5 0 0 0 16.3 7 Z" fill="#9cc8a0"/><circle cx="9" cy="9" r="4.6" fill="none" stroke="#7aa0dc" stroke-width="1.1"/><circle cx="8.6" cy="8.6" r="2" fill="#2d5fd0"/><path d="M9.2 9v7.6" stroke="#27b02b" stroke-width="1.6"/></svg><svg class="ic" style="left:201px;top:2px" width="19" height="18" viewBox="0 0 19 18"><path d="M2 8.5 L15 8.5 L10.5 16.5 L7 16.5 Z" fill="#f6d648" stroke="#d2a92a" stroke-width="0.8"/><ellipse cx="8.5" cy="6.6" rx="7.8" ry="2.7" fill="#4a9ad6"/><ellipse cx="8.5" cy="4.4" rx="4" ry="3.2" fill="#64b0e6"/><circle cx="13.6" cy="12.8" r="4.4" fill="#d6261c"/><rect x="11.8" y="11" width="3.6" height="3.6" fill="#fff"/></svg><span class="tt" style="left:223px;letter-spacing:0.62px">AutoTrading</span><i class="sep" style="left:302px;height:24px"></i><i class="grip" style="left:306px"></i><svg class="ic" style="left:317px;top:3px" width="16" height="18" viewBox="0 0 16 18"><path d="M3.5 2.5v13.5M1 13.5h12.5" stroke="#555" stroke-width="1" fill="none"/><path d="M2 4.2 3.5 2.3l1.5 1.9M12 12l1.9 1.5L12 15" stroke="#555" stroke-width="1" fill="none"/><path d="M9.5 3.5v8.5M9.5 4.7h2.5M7.2 10.6h2.3" stroke="#0a8a0a" stroke-width="1.4" fill="none"/></svg><i class="hl" style="left:340px;width:25px"></i><svg class="ic" style="left:345px;top:3px" width="16" height="18" viewBox="0 0 16 18"><path d="M3.5 2.5v13.5M1 13.5h12.5" stroke="#555" stroke-width="1" fill="none"/><path d="M2 4.2 3.5 2.3l1.5 1.9M12 12l1.9 1.5L12 15" stroke="#555" stroke-width="1" fill="none"/><path d="M9.5 1.5v12" stroke="#0a8a0a" stroke-width="1.2"/><rect x="7.5" y="3.5" width="4" height="8" fill="#30e030" stroke="#0c8c0c" stroke-width="1"/></svg><svg class="ic" style="left:373px;top:3px" width="16" height="18" viewBox="0 0 16 18"><path d="M3.5 2.5v13.5M1 13.5h12.5" stroke="#555" stroke-width="1" fill="none"/><path d="M2 4.2 3.5 2.3l1.5 1.9M12 12l1.9 1.5L12 15" stroke="#555" stroke-width="1" fill="none"/><path d="M4 10 Q7.5 2.5 10 6 T14 9" stroke="#0a8a0a" stroke-width="1.2" fill="none"/></svg><i class="sep" style="left:397px;height:21px"></i><svg class="ic" style="left:404px;top:2px" width="18" height="19" viewBox="0 0 18 19"><line x1="10.5" y1="10.5" x2="15.5" y2="16" stroke="#d9a520" stroke-width="2.8" stroke-linecap="round"/><circle cx="7" cy="7" r="5.6" fill="#dff0ff" stroke="#3a78c8" stroke-width="1.5"/><path d="M4 7h6M7 4v6" stroke="#2a62c0" stroke-width="1.6"/></svg><svg class="ic" style="left:433px;top:2px" width="18" height="19" viewBox="0 0 18 19"><line x1="10.5" y1="10.5" x2="15.5" y2="16" stroke="#d9a520" stroke-width="2.8" stroke-linecap="round"/><circle cx="7" cy="7" r="5.6" fill="#dff0ff" stroke="#3a78c8" stroke-width="1.5"/><path d="M4 7h6" stroke="#2a62c0" stroke-width="1.6"/></svg><svg class="ic" style="left:462px;top:3px" width="17" height="17" viewBox="0 0 17 17"><rect x="0" y="0" width="8.3" height="8" fill="#3a9a30"/><rect x="8.3" y="0" width="8" height="8" fill="#2a60d0"/><rect x="0" y="8" width="8.3" height="8" fill="#2a60d0"/><rect x="8.3" y="8" width="8" height="8" fill="#3a9a30"/><path d="M1.5 4.5h5M10 4.5h5M1.5 12h5M10 12h5" stroke="#e8f4e8" stroke-width="1.6"/><path d="M0 2h16.3M0 10h16.3" stroke="#1a4090" stroke-width="0.01"/></svg><i class="sep" style="left:487px;height:21px"></i><i class="hl" style="left:492px;width:24px"></i><svg class="ic" style="left:497px;top:3px" width="16" height="18" viewBox="0 0 16 18"><path d="M3.5 2.5v13.5M1 13.5h12.5" stroke="#555" stroke-width="1" fill="none"/><path d="M2 4.2 3.5 2.3l1.5 1.9M12 12l1.9 1.5L12 15" stroke="#555" stroke-width="1" fill="none"/><polygon points="7.5,5 12.5,8 7.5,11" fill="#1ea01e"/></svg><i class="hl" style="left:520px;width:25px"></i><svg class="ic" style="left:526px;top:3px" width="16" height="18" viewBox="0 0 16 18"><path d="M3.5 2.5v13.5M1 13.5h12.5" stroke="#555" stroke-width="1" fill="none"/><path d="M2 4.2 3.5 2.3l1.5 1.9M12 12l1.9 1.5L12 15" stroke="#555" stroke-width="1" fill="none"/><path d="M9.5 2v11" stroke="#555" stroke-width="1.1"/><path d="M14.5 7.5h-4M12.2 5.5l-2 2 2 2" stroke="#d03018" stroke-width="1.3" fill="none"/></svg><i class="sep" style="left:549px;height:21px"></i><svg class="ic" style="left:558px;top:2px" width="19" height="19" viewBox="0 0 19 19"><path d="M4.5 1.5h7l3 3v9h-10z" fill="#fff" stroke="#6a6a6a"/><path d="M1.5 4.5h6v9h-6z" fill="#f4f4f4" stroke="#6a6a6a"/><path d="M12 9v9.5M7.3 13.8h9.5" stroke="#148a14" stroke-width="4.2"/><path d="M12 10v7.5M8.3 13.8h7.5" stroke="#34d834" stroke-width="2"/></svg><svg class="ic" style="left:581px;top:10px" width="6" height="3" viewBox="0 0 6 3"><polygon points="0,0 5.6,0 2.8,3" fill="#000"/></svg><svg class="ic" style="left:595px;top:2px" width="18" height="18" viewBox="0 0 18 18"><circle cx="9" cy="9" r="8.2" fill="#2a6fd8"/><circle cx="9" cy="9" r="5.2" fill="#f2f6fc"/><path d="M9 5v4.3h3.2" stroke="#444" stroke-width="1.2" fill="none"/></svg><svg class="ic" style="left:619px;top:10px" width="6" height="3" viewBox="0 0 6 3"><polygon points="0,0 5.6,0 2.8,3" fill="#000"/></svg><svg class="ic" style="left:635px;top:4px" width="17" height="14" viewBox="0 0 17 14"><rect x="0.5" y="0.5" width="16" height="13" fill="#f4f8ff" stroke="#2a64c0" stroke-width="1.2"/><rect x="0.5" y="0.5" width="16" height="2.6" fill="#2a64c0"/><path d="M2.5 7l3-1 3 .6 3-1.6 3-.3" stroke="#c83020" stroke-width="1.1" fill="none"/><path d="M2.5 11l3-1 3 1 3-1.5 3 0" stroke="#1e901e" stroke-width="1.1" fill="none"/></svg><svg class="ic" style="left:658px;top:10px" width="6" height="3" viewBox="0 0 6 3"><polygon points="0,0 5.6,0 2.8,3" fill="#000"/></svg><i class="sep" style="left:670px;height:21px"></i><i class="grip" style="left:674px"></i><i class="hl" style="left:680px;width:25px"></i><svg class="ic" style="left:686px;top:3px" width="12" height="18" viewBox="0 0 12 18"><path d="M1.5 1 L1.5 14 L4.8 10.8 L7.3 16.2 L9.3 15.2 L6.8 10 L11 10 Z" fill="#3c3c3c"/></svg><svg class="ic" style="left:713px;top:4px" width="16" height="16" viewBox="0 0 16 16"><path d="M7.5 0.5v14M0.5 7.5h14" stroke="#444" stroke-width="1"/></svg><i class="sep" style="left:737px;height:21px"></i><svg class="ic" style="left:751px;top:4px" width="6" height="16" viewBox="0 0 6 16"><path d="M3 1v13" stroke="#555" stroke-width="1"/></svg><svg class="ic" style="left:775px;top:4px" width="16" height="16" viewBox="0 0 16 16"><path d="M1 7.5h12" stroke="#555" stroke-width="1"/></svg><svg class="ic" style="left:804px;top:4px" width="15" height="16" viewBox="0 0 15 16"><path d="M1 14L13 2" stroke="#555" stroke-width="1"/></svg><svg class="ic" style="left:829px;top:3px" width="19" height="18" viewBox="0 0 19 18"><path d="M1 13L12 2M4 15.5L15 4.5" stroke="#555" stroke-width="1.1"/><path d="M3 8.5l7 4M6 5.5l7 4" stroke="#555" stroke-width="0.9"/><text x="12.5" y="17.5" font-family="Liberation Sans,sans-serif" font-size="6.5" font-weight="bold" fill="#333">E</text></svg><svg class="ic" style="left:859px;top:3px" width="17" height="18" viewBox="0 0 17 18"><path d="M1 1.5h13M1 4.5h13M1 8.5h13M1 12.5h9" stroke="#555" stroke-width="1" stroke-dasharray="1 1" shape-rendering="crispEdges"/><text x="11" y="17.5" font-family="Liberation Sans,sans-serif" font-size="6.5" font-weight="bold" fill="#333">F</text></svg><span class="tA" style="left:889px">A</span><svg class="ic" style="left:916px;top:3px" width="15" height="17" viewBox="0 0 15 17"><rect x="0.5" y="0.5" width="13" height="14.5" fill="none" stroke="#666" stroke-dasharray="1 1"/><path d="M3.5 4h7M7 4v9" stroke="#444" stroke-width="1.6"/></svg><svg class="ic" style="left:943px;top:4px" width="16" height="15" viewBox="0 0 16 15"><path d="M5 0.5l3 3-3 3-3-3zM11 7.5l3 3-3 3-3-3z" fill="#333"/><path d="M2.5 8l2.5 3M9 2.5l3 3" stroke="#333" stroke-width="1"/></svg><svg class="ic" style="left:964px;top:10px" width="6" height="3" viewBox="0 0 6 3"><polygon points="0,0 5.6,0 2.8,3" fill="#000"/></svg><i class="sep" style="left:976px;height:21px"></i><i class="grip" style="left:980px"></i><span class="tf" style="left:992px">M1</span><span class="tf" style="left:1020px">M5</span><span class="tf" style="left:1046px">M15</span><span class="tf" style="left:1074px">M30</span><span class="tf" style="left:1104px">H1</span><i class="hl" style="left:1126px;width:25px"></i><span class="tf" style="left:1132px">H4</span><span class="tf" style="left:1161px">D1</span><span class="tf" style="left:1188px">W1</span><span class="tf" style="left:1214px">MN</span><i class="sep" style="left:1237px;height:21px"></i><svg class="ic" style="left:1644px;top:3px" width="17" height="17" viewBox="0 0 17 17"><line x1="2" y1="13.5" x2="7" y2="8.5" stroke="#2a5fc8" stroke-width="2.6" stroke-linecap="round"/><circle cx="10" cy="5.5" r="4" fill="#f4f8ff" stroke="#2a5fc8" stroke-width="1.7"/></svg><svg class="ic" style="left:1669px;top:6px" width="16" height="15" viewBox="0 0 16 15"><path d="M2 6a6 4.5 0 1 1 5 4.4L4.5 13 5 10A6 4.5 0 0 1 2 6z" fill="#f2f2f2" stroke="#b8b8b8"/></svg><svg class="ic" style="left:1676px;top:0px" width="18" height="18" viewBox="0 0 18 18"><circle cx="9" cy="8" r="8.4" fill="#dc3a1e"/><text x="9" y="12.3" text-anchor="middle" font-family="Liberation Sans,sans-serif" font-size="12" fill="#fff">1</text></svg></div>
<div id="tp">
<div class="wbox"></div>
<div class="bs sell"><span>SELL</span></div>
<div class="bs buy"><span>BUY</span></div>
<div class="pr pl"><span class="sm" style="left:13px">33796</span><span class="dot" style="left:50px">.</span><span class="big" style="left:58px">5</span></div>
<div class="pr prr"><span class="sm" style="left:15px">33805</span><span class="dot" style="left:54px">.</span><span class="big" style="left:62px">5</span></div>
<div class="ln" style="left:0;width:44px"></div><div class="ln" style="left:167px;width:44px"></div>
<div class="spin"><i class="sb" style="left:0"><svg width="5" height="3" viewBox="0 0 5 3"><polygon points="0,0 5,0 2.5,3" fill="#4a5ec8"/></svg></i><span class="vol">1.00</span><i class="sb" style="right:0"><svg width="5" height="3" viewBox="0 0 5 3"><polygon points="0,3 5,3 2.5,0" fill="#4a5ec8"/></svg></i></div>
</div>

</body></html>
